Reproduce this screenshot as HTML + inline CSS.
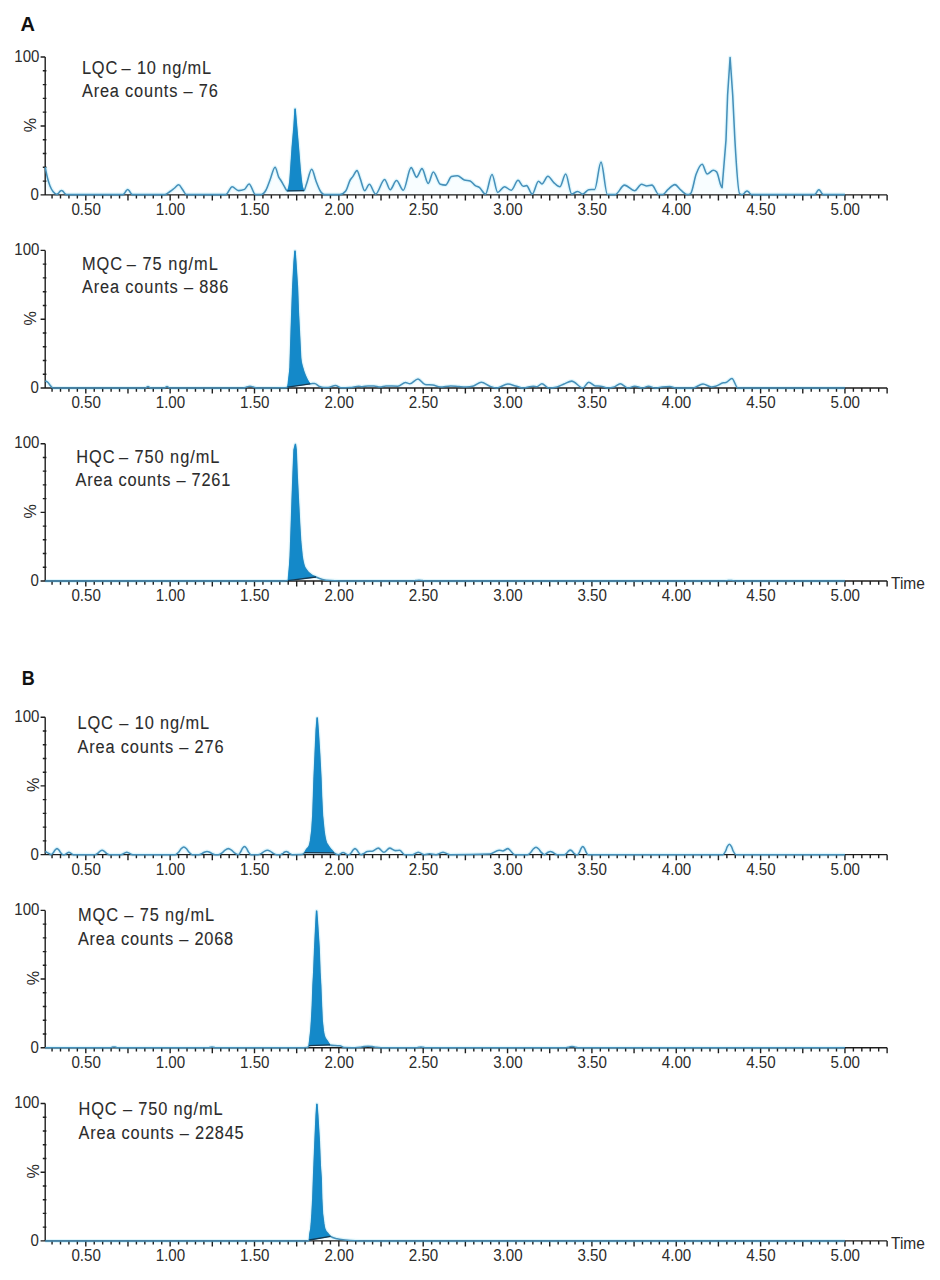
<!DOCTYPE html>
<html><head><meta charset="utf-8"><title>Chromatograms</title>
<style>
html,body{margin:0;padding:0;background:#fff;}
body{width:940px;height:1280px;position:relative;overflow:hidden;font-family:"Liberation Sans",sans-serif;}
svg text{font-family:"Liberation Sans",sans-serif;}
</style></head><body>
<svg width="940" height="1280" viewBox="0 0 940 1280" style="position:absolute;left:0;top:0">
<rect width="940" height="1280" fill="#ffffff"/>
<path d="M45.2 167.2 C45.97 170.8 46.73 174.95 47.5 178 C48.33 181.32 49.17 183.85 50 186 C51 188.58 52 190.14 53 191.5 C54.17 193.08 55.33 194.3 56.5 194.3 C57.13 194.3 57.77 193.94 58.4 193.34 C58.9 192.87 59.4 191.89 59.9 191.41 C60.43 190.89 60.97 190.4 61.5 190.4 C62.03 190.4 62.57 190.89 63.1 191.41 C63.6 191.89 64.1 192.83 64.6 193.34 C65.23 193.98 65.87 194.6 66.5 194.6 C83.67 194.6 100.83 194.6 118 194.6 C119.63 194.6 121.27 194.6 122.9 194.6 C123.51 194.6 124.12 193.83 124.72 193.04 C125.2 192.41 125.68 191.25 126.16 190.65 C126.68 190.01 127.19 189.4 127.7 189.4 C128.21 189.4 128.72 190.01 129.24 190.65 C129.72 191.25 130.2 192.41 130.68 193.04 C131.28 193.83 131.89 194.6 132.5 194.6 C141.67 194.6 150.83 194.6 160 194.6 C161.67 194.6 163.33 194.6 165 194.6 C166.67 194.6 168.33 192.65 170 191.5 C171.33 190.58 172.67 189.52 174 188.5 C175.57 187.3 177.13 184.8 178.7 184.8 C179.97 184.8 181.23 187.89 182.5 189.5 C183.8 191.15 185.1 194.6 186.4 194.6 C199.5 194.6 212.6 194.6 225.7 194.6 C227.87 194.6 230.03 186.8 232.2 186.8 C234.3 186.8 236.4 190.6 238.5 190.6 C240.5 190.6 242.5 190.2 244.5 189.4 C246.03 188.79 247.57 183.9 249.1 183.9 C251.23 183.9 253.37 194.6 255.5 194.6 C257.5 194.6 259.5 194.53 261.5 194.4 C263 194.3 264.5 192.68 266 190 C267.33 187.62 268.67 183.34 270 180 C271.7 175.74 273.4 167.2 275.1 167.2 C276.27 167.2 277.43 174.35 278.6 176.8 C279.47 178.62 280.33 179.55 281.2 181 C282.03 182.39 282.87 183.94 283.7 185.3 C284.93 187.32 286.17 190.9 287.4 190.9 C288.18 190.9 288.97 188.07 289.75 182.4 C290.12 179.75 290.48 173.36 290.85 168.3 L292.25 147.2 L294.05 126.1 L295.1 109.1 L296.55 126.1 L298.35 147.2 L300.05 168.3 C300.55 173.71 301.05 178.91 301.55 182.4 C302.33 187.87 303.12 190.6 303.9 190.6 C304.77 190.6 305.63 186.28 306.5 184 C308.23 179.43 309.97 169.3 311.7 169.3 C313.13 169.3 314.57 177.36 316 181 C317.33 184.39 318.67 188.25 320 190.5 C321.5 193.03 323 194.6 324.5 194.6 C329.6 194.6 334.7 194.6 339.8 194.6 C341.77 194.6 343.73 193.4 345.7 191 C347.2 189.17 348.7 182.59 350.2 180 C351.07 178.51 351.93 177.77 352.8 176.6 C354.2 174.7 355.6 170.6 357 170.6 C358.13 170.6 359.27 176.17 360.4 179.1 C361.83 182.81 363.27 190.7 364.7 190.7 C366.23 190.7 367.77 184.3 369.3 184.3 C371.43 184.3 373.57 194.1 375.7 194.1 C378.67 194.1 381.63 179.5 384.6 179.5 C386.47 179.5 388.33 189.7 390.2 189.7 C392.3 189.7 394.4 180.5 396.5 180.5 C398.77 180.5 401.03 190.2 403.3 190.2 C405.9 190.2 408.5 167.6 411.1 167.6 C412.93 167.6 414.77 177.1 416.6 177.1 C418.4 177.1 420.2 168.6 422 168.6 C424.07 168.6 426.13 183.4 428.2 183.4 C429.9 183.4 431.6 172 433.3 172 C435.67 172 438.03 183.56 440.4 184.3 C442.1 184.83 443.8 185.1 445.5 185.1 C447.5 185.1 449.5 177.21 451.5 176.6 C453.47 176 455.43 175.7 457.4 175.7 C459.7 175.7 462 179.3 464.3 180 C466.27 180.6 468.23 180.3 470.2 180.9 C471.9 181.42 473.6 184.43 475.3 185.6 C476.73 186.58 478.17 186.64 479.6 187.7 C481.57 189.15 483.53 194.1 485.5 194.1 C487.67 194.1 489.83 174.4 492 174.4 C493.9 174.4 495.8 192.4 497.7 192.4 C499.97 192.4 502.23 186.8 504.5 186.8 C506.77 186.8 509.03 190.2 511.3 190.2 C513.57 190.2 515.83 180.3 518.1 180.3 C519.8 180.3 521.5 186.3 523.2 186.3 C524.33 186.3 525.47 185.6 526.6 185.6 C528.47 185.6 530.33 194.1 532.2 194.1 C534.3 194.1 536.4 181.2 538.5 181.2 C539.63 181.2 540.77 183.9 541.9 183.9 C543.9 183.9 545.9 176.3 547.9 176.3 C549.87 176.3 551.83 180.86 553.8 182.6 C555.8 184.37 557.8 186.8 559.8 186.8 C561.77 186.8 563.73 174 565.7 174 C567.7 174 569.7 194.1 571.7 194.1 C573.7 194.1 575.7 191.4 577.7 191.4 C579.4 191.4 581.1 194.1 582.8 194.1 C584.77 194.1 586.73 189.9 588.7 189.7 C590.7 189.5 592.7 189.6 594.7 189.4 C596.8 189.19 598.9 162.1 601 162.1 C603.13 162.1 605.27 194.29 607.4 194.4 C609.97 194.53 612.53 194.6 615.1 194.6 C618.23 194.6 621.37 185.1 624.5 185.1 C627.9 185.1 631.3 190.7 634.7 190.7 C636.97 190.7 639.23 184.3 641.5 184.3 C643.27 184.3 645.03 186 646.8 186 C648.5 186 650.2 185.1 651.9 185.1 C654.17 185.1 656.43 194.4 658.7 194.4 C660.13 194.4 661.57 194.4 663 194.4 C664.7 194.4 666.4 190.87 668.1 189.4 C670.37 187.44 672.63 184.6 674.9 184.6 C676.9 184.6 678.9 188.6 680.9 190.2 C683.17 192.01 685.43 194.6 687.7 194.6 C688.67 194.6 689.63 194.27 690.6 193.6 C692.47 192.31 694.33 178.85 696.2 174 C698.17 168.89 700.13 164.3 702.1 164.3 C703.8 164.3 705.5 174 707.2 174 C709.2 174 711.2 170.2 713.2 170.2 C714.33 170.2 715.47 170.77 716.6 171.9 C718.43 173.73 720.27 187.7 722.1 187.7 L726 140 L727.6 95 L730.1 57.5 L732.7 95 L734.9 140 C736.47 167.52 738.03 192.39 739.6 193.6 C740.47 194.27 741.33 194.6 742.2 194.6 C742.81 194.6 743.42 194.07 744.02 193.52 C744.5 193.09 744.98 192.28 745.46 191.86 C745.98 191.42 746.49 191 747 191 C747.51 191 748.02 191.42 748.54 191.86 C749.02 192.28 749.5 193.09 749.98 193.52 C750.58 194.07 751.19 194.6 751.8 194.6 C764.53 194.6 777.27 194.6 790 194.6 C798.13 194.6 806.27 194.6 814.4 194.6 C814.97 194.6 815.54 193.89 816.11 193.16 C816.56 192.58 817.01 191.51 817.46 190.95 C817.94 190.36 818.42 189.8 818.9 189.8 C819.38 189.8 819.86 190.36 820.34 190.95 C820.79 191.51 821.24 192.58 821.69 193.16 C822.26 193.89 822.83 194.6 823.4 194.6 C830.58 194.6 837.77 194.6 844.95 194.6 L844.95 194.9 L45.2 194.9 Z" fill="#f8fdff" stroke="none"/>
<path d="M45.2 167.2 C45.97 170.8 46.73 174.95 47.5 178 C48.33 181.32 49.17 183.85 50 186 C51 188.58 52 190.14 53 191.5 C54.17 193.08 55.33 194.3 56.5 194.3 C57.13 194.3 57.77 193.94 58.4 193.34 C58.9 192.87 59.4 191.89 59.9 191.41 C60.43 190.89 60.97 190.4 61.5 190.4 C62.03 190.4 62.57 190.89 63.1 191.41 C63.6 191.89 64.1 192.83 64.6 193.34 C65.23 193.98 65.87 194.6 66.5 194.6 C83.67 194.6 100.83 194.6 118 194.6 C119.63 194.6 121.27 194.6 122.9 194.6 C123.51 194.6 124.12 193.83 124.72 193.04 C125.2 192.41 125.68 191.25 126.16 190.65 C126.68 190.01 127.19 189.4 127.7 189.4 C128.21 189.4 128.72 190.01 129.24 190.65 C129.72 191.25 130.2 192.41 130.68 193.04 C131.28 193.83 131.89 194.6 132.5 194.6 C141.67 194.6 150.83 194.6 160 194.6 C161.67 194.6 163.33 194.6 165 194.6 C166.67 194.6 168.33 192.65 170 191.5 C171.33 190.58 172.67 189.52 174 188.5 C175.57 187.3 177.13 184.8 178.7 184.8 C179.97 184.8 181.23 187.89 182.5 189.5 C183.8 191.15 185.1 194.6 186.4 194.6 C199.5 194.6 212.6 194.6 225.7 194.6 C227.87 194.6 230.03 186.8 232.2 186.8 C234.3 186.8 236.4 190.6 238.5 190.6 C240.5 190.6 242.5 190.2 244.5 189.4 C246.03 188.79 247.57 183.9 249.1 183.9 C251.23 183.9 253.37 194.6 255.5 194.6 C257.5 194.6 259.5 194.53 261.5 194.4 C263 194.3 264.5 192.68 266 190 C267.33 187.62 268.67 183.34 270 180 C271.7 175.74 273.4 167.2 275.1 167.2 C276.27 167.2 277.43 174.35 278.6 176.8 C279.47 178.62 280.33 179.55 281.2 181 C282.03 182.39 282.87 183.94 283.7 185.3 C284.93 187.32 286.17 190.9 287.4 190.9 C288.18 190.9 288.97 188.07 289.75 182.4 C290.12 179.75 290.48 173.36 290.85 168.3 L292.25 147.2 L294.05 126.1 L295.1 109.1 L296.55 126.1 L298.35 147.2 L300.05 168.3 C300.55 173.71 301.05 178.91 301.55 182.4 C302.33 187.87 303.12 190.6 303.9 190.6 C304.77 190.6 305.63 186.28 306.5 184 C308.23 179.43 309.97 169.3 311.7 169.3 C313.13 169.3 314.57 177.36 316 181 C317.33 184.39 318.67 188.25 320 190.5 C321.5 193.03 323 194.6 324.5 194.6 C329.6 194.6 334.7 194.6 339.8 194.6 C341.77 194.6 343.73 193.4 345.7 191 C347.2 189.17 348.7 182.59 350.2 180 C351.07 178.51 351.93 177.77 352.8 176.6 C354.2 174.7 355.6 170.6 357 170.6 C358.13 170.6 359.27 176.17 360.4 179.1 C361.83 182.81 363.27 190.7 364.7 190.7 C366.23 190.7 367.77 184.3 369.3 184.3 C371.43 184.3 373.57 194.1 375.7 194.1 C378.67 194.1 381.63 179.5 384.6 179.5 C386.47 179.5 388.33 189.7 390.2 189.7 C392.3 189.7 394.4 180.5 396.5 180.5 C398.77 180.5 401.03 190.2 403.3 190.2 C405.9 190.2 408.5 167.6 411.1 167.6 C412.93 167.6 414.77 177.1 416.6 177.1 C418.4 177.1 420.2 168.6 422 168.6 C424.07 168.6 426.13 183.4 428.2 183.4 C429.9 183.4 431.6 172 433.3 172 C435.67 172 438.03 183.56 440.4 184.3 C442.1 184.83 443.8 185.1 445.5 185.1 C447.5 185.1 449.5 177.21 451.5 176.6 C453.47 176 455.43 175.7 457.4 175.7 C459.7 175.7 462 179.3 464.3 180 C466.27 180.6 468.23 180.3 470.2 180.9 C471.9 181.42 473.6 184.43 475.3 185.6 C476.73 186.58 478.17 186.64 479.6 187.7 C481.57 189.15 483.53 194.1 485.5 194.1 C487.67 194.1 489.83 174.4 492 174.4 C493.9 174.4 495.8 192.4 497.7 192.4 C499.97 192.4 502.23 186.8 504.5 186.8 C506.77 186.8 509.03 190.2 511.3 190.2 C513.57 190.2 515.83 180.3 518.1 180.3 C519.8 180.3 521.5 186.3 523.2 186.3 C524.33 186.3 525.47 185.6 526.6 185.6 C528.47 185.6 530.33 194.1 532.2 194.1 C534.3 194.1 536.4 181.2 538.5 181.2 C539.63 181.2 540.77 183.9 541.9 183.9 C543.9 183.9 545.9 176.3 547.9 176.3 C549.87 176.3 551.83 180.86 553.8 182.6 C555.8 184.37 557.8 186.8 559.8 186.8 C561.77 186.8 563.73 174 565.7 174 C567.7 174 569.7 194.1 571.7 194.1 C573.7 194.1 575.7 191.4 577.7 191.4 C579.4 191.4 581.1 194.1 582.8 194.1 C584.77 194.1 586.73 189.9 588.7 189.7 C590.7 189.5 592.7 189.6 594.7 189.4 C596.8 189.19 598.9 162.1 601 162.1 C603.13 162.1 605.27 194.29 607.4 194.4 C609.97 194.53 612.53 194.6 615.1 194.6 C618.23 194.6 621.37 185.1 624.5 185.1 C627.9 185.1 631.3 190.7 634.7 190.7 C636.97 190.7 639.23 184.3 641.5 184.3 C643.27 184.3 645.03 186 646.8 186 C648.5 186 650.2 185.1 651.9 185.1 C654.17 185.1 656.43 194.4 658.7 194.4 C660.13 194.4 661.57 194.4 663 194.4 C664.7 194.4 666.4 190.87 668.1 189.4 C670.37 187.44 672.63 184.6 674.9 184.6 C676.9 184.6 678.9 188.6 680.9 190.2 C683.17 192.01 685.43 194.6 687.7 194.6 C688.67 194.6 689.63 194.27 690.6 193.6 C692.47 192.31 694.33 178.85 696.2 174 C698.17 168.89 700.13 164.3 702.1 164.3 C703.8 164.3 705.5 174 707.2 174 C709.2 174 711.2 170.2 713.2 170.2 C714.33 170.2 715.47 170.77 716.6 171.9 C718.43 173.73 720.27 187.7 722.1 187.7 L726 140 L727.6 95 L730.1 57.5 L732.7 95 L734.9 140 C736.47 167.52 738.03 192.39 739.6 193.6 C740.47 194.27 741.33 194.6 742.2 194.6 C742.81 194.6 743.42 194.07 744.02 193.52 C744.5 193.09 744.98 192.28 745.46 191.86 C745.98 191.42 746.49 191 747 191 C747.51 191 748.02 191.42 748.54 191.86 C749.02 192.28 749.5 193.09 749.98 193.52 C750.58 194.07 751.19 194.6 751.8 194.6 C764.53 194.6 777.27 194.6 790 194.6 C798.13 194.6 806.27 194.6 814.4 194.6 C814.97 194.6 815.54 193.89 816.11 193.16 C816.56 192.58 817.01 191.51 817.46 190.95 C817.94 190.36 818.42 189.8 818.9 189.8 C819.38 189.8 819.86 190.36 820.34 190.95 C820.79 191.51 821.24 192.58 821.69 193.16 C822.26 193.89 822.83 194.6 823.4 194.6 C830.58 194.6 837.77 194.6 844.95 194.6" stroke="#d6f4fc" stroke-width="4" fill="none" stroke-linejoin="round" opacity="0.7"/>
<path d="M45.2 380.8 C46.13 381.37 47.07 381.58 48 382.5 C48.83 383.32 49.67 384.86 50.5 385.8 C51.27 386.67 52.03 388 52.8 388 C81.87 388 110.93 388 140 388 C141.67 388 143.33 388 145 388 C145.38 388 145.76 387.79 146.14 387.58 C146.44 387.41 146.74 387.1 147.04 386.94 C147.36 386.76 147.68 386.6 148 386.6 C148.32 386.6 148.64 386.76 148.96 386.94 C149.26 387.1 149.56 387.41 149.86 387.58 C150.24 387.79 150.62 388 151 388 C155.33 388 159.67 388 164 388 C164.38 388 164.76 387.79 165.14 387.58 C165.44 387.41 165.74 387.1 166.04 386.94 C166.36 386.76 166.68 386.6 167 386.6 C167.32 386.6 167.64 386.76 167.96 386.94 C168.26 387.1 168.56 387.41 168.86 387.58 C169.24 387.79 169.62 388 170 388 C171.67 388 173.33 388 175 388 C197.67 388 220.33 388 243 388 C243.89 388 244.77 387.73 245.66 387.46 C246.36 387.24 247.06 386.84 247.76 386.63 C248.51 386.41 249.25 386.2 250 386.2 C250.75 386.2 251.49 386.41 252.24 386.63 C252.94 386.84 253.64 387.24 254.34 387.46 C255.23 387.73 256.11 388 257 388 C265.67 388 274.33 387.93 283 387.8 C284.5 387.78 286 387.6 287.5 387.2 C288.35 386.97 289.2 380.63 290.05 367.5 L291.25 330 L291.85 312.5 L292.75 287.5 L294.05 262.5 L295 251.1 L295.85 262.5 L297.45 287.5 L298.35 312.5 L299.25 330 L300.65 358 C301.28 364.33 301.92 364.83 302.55 367.5 C303.67 372.24 304.8 374.44 305.92 377 C307.35 380.25 308.77 383.8 310.2 383.8 C311.63 383.8 313.07 383.4 314.5 383.4 C316.2 383.4 317.9 385.81 319.6 386.5 C321.07 387.09 322.53 387.5 324 387.5 C325.33 387.5 326.67 387.5 328 387.5 C330.5 387.5 333 385.4 335.5 385.4 C337.33 385.4 339.17 387.8 341 387.8 C344 387.8 347 387.73 350 387.6 C352.9 387.47 355.8 386.2 358.7 386.2 C359.8 386.2 360.9 386.7 362 386.7 C364 386.7 366 385.9 368 385.9 C370 385.9 372 385.9 374 385.9 C376 385.9 378 387 380 387 C382 387 384 385.9 386 385.9 C389.97 385.9 393.93 386.2 397.9 386.2 C400.43 386.2 402.97 382.5 405.5 382.5 C406.93 382.5 408.37 383.7 409.8 383.7 C412.53 383.7 415.27 378.9 418 378.9 C420.37 378.9 422.73 384.19 425.1 384.5 C427.67 384.83 430.23 384.67 432.8 385 C435.33 385.33 437.87 387 440.4 387 C443.8 387 447.2 385.9 450.6 385.9 C453.4 385.9 456.2 386.41 459 386.6 C461.33 386.76 463.67 387 466 387 C468.53 387 471.07 386.63 473.6 385.9 C476.17 385.16 478.73 382.3 481.3 382.3 C484.13 382.3 486.97 385.21 489.8 386.2 C492.07 387 494.33 388 496.6 388 C500.37 388 504.13 384 507.9 384 C510.43 384 512.97 385.24 515.5 385.9 C518.07 386.57 520.63 388 523.2 388 C526.6 388 530 386.2 533.4 386.2 C534.53 386.2 535.67 386.7 536.8 386.7 C538.5 386.7 540.2 383.8 541.9 383.8 C544.17 383.8 546.43 388 548.7 388 C551.53 388 554.37 387.63 557.2 386.9 C559.47 386.31 561.73 384.91 564 384 C566.57 382.97 569.13 381.1 571.7 381.1 C575.4 381.1 579.1 388 582.8 388 C584.77 388 586.73 382.3 588.7 382.3 C590.97 382.3 593.23 385.82 595.5 386 C597.2 386.13 598.9 386.07 600.6 386.2 C602.87 386.38 605.13 388 607.4 388 C609.7 388 612 387.63 614.3 386.9 C616.27 386.27 618.23 383.7 620.2 383.7 C622.77 383.7 625.33 388 627.9 388 C630.17 388 632.43 386.2 634.7 386.2 C637.23 386.2 639.77 388 642.3 388 C644.37 388 646.43 386.2 648.5 386.2 C650.77 386.2 653.03 388 655.3 388 C657.57 388 659.83 387.14 662.1 386.9 C664.67 386.63 667.23 386.5 669.8 386.5 C671.77 386.5 673.73 388 675.7 388 C681.4 388 687.1 388 692.8 388 C696.2 388 699.6 384 703 384 C705.83 384 708.67 387 711.5 387 C712.9 387 714.3 386.59 715.7 386.2 C718.27 385.48 720.83 383.31 723.4 382.8 C724.27 382.63 725.13 382.7 726 382.5 C727.97 382.05 729.93 378.4 731.9 378.4 C733.9 378.4 735.9 388 737.9 388 C773.58 388 809.27 388 844.95 388 L844.95 388 L45.2 388 Z" fill="#f8fdff" stroke="none"/>
<path d="M45.2 380.8 C46.13 381.37 47.07 381.58 48 382.5 C48.83 383.32 49.67 384.86 50.5 385.8 C51.27 386.67 52.03 388 52.8 388 C81.87 388 110.93 388 140 388 C141.67 388 143.33 388 145 388 C145.38 388 145.76 387.79 146.14 387.58 C146.44 387.41 146.74 387.1 147.04 386.94 C147.36 386.76 147.68 386.6 148 386.6 C148.32 386.6 148.64 386.76 148.96 386.94 C149.26 387.1 149.56 387.41 149.86 387.58 C150.24 387.79 150.62 388 151 388 C155.33 388 159.67 388 164 388 C164.38 388 164.76 387.79 165.14 387.58 C165.44 387.41 165.74 387.1 166.04 386.94 C166.36 386.76 166.68 386.6 167 386.6 C167.32 386.6 167.64 386.76 167.96 386.94 C168.26 387.1 168.56 387.41 168.86 387.58 C169.24 387.79 169.62 388 170 388 C171.67 388 173.33 388 175 388 C197.67 388 220.33 388 243 388 C243.89 388 244.77 387.73 245.66 387.46 C246.36 387.24 247.06 386.84 247.76 386.63 C248.51 386.41 249.25 386.2 250 386.2 C250.75 386.2 251.49 386.41 252.24 386.63 C252.94 386.84 253.64 387.24 254.34 387.46 C255.23 387.73 256.11 388 257 388 C265.67 388 274.33 387.93 283 387.8 C284.5 387.78 286 387.6 287.5 387.2 C288.35 386.97 289.2 380.63 290.05 367.5 L291.25 330 L291.85 312.5 L292.75 287.5 L294.05 262.5 L295 251.1 L295.85 262.5 L297.45 287.5 L298.35 312.5 L299.25 330 L300.65 358 C301.28 364.33 301.92 364.83 302.55 367.5 C303.67 372.24 304.8 374.44 305.92 377 C307.35 380.25 308.77 383.8 310.2 383.8 C311.63 383.8 313.07 383.4 314.5 383.4 C316.2 383.4 317.9 385.81 319.6 386.5 C321.07 387.09 322.53 387.5 324 387.5 C325.33 387.5 326.67 387.5 328 387.5 C330.5 387.5 333 385.4 335.5 385.4 C337.33 385.4 339.17 387.8 341 387.8 C344 387.8 347 387.73 350 387.6 C352.9 387.47 355.8 386.2 358.7 386.2 C359.8 386.2 360.9 386.7 362 386.7 C364 386.7 366 385.9 368 385.9 C370 385.9 372 385.9 374 385.9 C376 385.9 378 387 380 387 C382 387 384 385.9 386 385.9 C389.97 385.9 393.93 386.2 397.9 386.2 C400.43 386.2 402.97 382.5 405.5 382.5 C406.93 382.5 408.37 383.7 409.8 383.7 C412.53 383.7 415.27 378.9 418 378.9 C420.37 378.9 422.73 384.19 425.1 384.5 C427.67 384.83 430.23 384.67 432.8 385 C435.33 385.33 437.87 387 440.4 387 C443.8 387 447.2 385.9 450.6 385.9 C453.4 385.9 456.2 386.41 459 386.6 C461.33 386.76 463.67 387 466 387 C468.53 387 471.07 386.63 473.6 385.9 C476.17 385.16 478.73 382.3 481.3 382.3 C484.13 382.3 486.97 385.21 489.8 386.2 C492.07 387 494.33 388 496.6 388 C500.37 388 504.13 384 507.9 384 C510.43 384 512.97 385.24 515.5 385.9 C518.07 386.57 520.63 388 523.2 388 C526.6 388 530 386.2 533.4 386.2 C534.53 386.2 535.67 386.7 536.8 386.7 C538.5 386.7 540.2 383.8 541.9 383.8 C544.17 383.8 546.43 388 548.7 388 C551.53 388 554.37 387.63 557.2 386.9 C559.47 386.31 561.73 384.91 564 384 C566.57 382.97 569.13 381.1 571.7 381.1 C575.4 381.1 579.1 388 582.8 388 C584.77 388 586.73 382.3 588.7 382.3 C590.97 382.3 593.23 385.82 595.5 386 C597.2 386.13 598.9 386.07 600.6 386.2 C602.87 386.38 605.13 388 607.4 388 C609.7 388 612 387.63 614.3 386.9 C616.27 386.27 618.23 383.7 620.2 383.7 C622.77 383.7 625.33 388 627.9 388 C630.17 388 632.43 386.2 634.7 386.2 C637.23 386.2 639.77 388 642.3 388 C644.37 388 646.43 386.2 648.5 386.2 C650.77 386.2 653.03 388 655.3 388 C657.57 388 659.83 387.14 662.1 386.9 C664.67 386.63 667.23 386.5 669.8 386.5 C671.77 386.5 673.73 388 675.7 388 C681.4 388 687.1 388 692.8 388 C696.2 388 699.6 384 703 384 C705.83 384 708.67 387 711.5 387 C712.9 387 714.3 386.59 715.7 386.2 C718.27 385.48 720.83 383.31 723.4 382.8 C724.27 382.63 725.13 382.7 726 382.5 C727.97 382.05 729.93 378.4 731.9 378.4 C733.9 378.4 735.9 388 737.9 388 C773.58 388 809.27 388 844.95 388" stroke="#d6f4fc" stroke-width="4" fill="none" stroke-linejoin="round" opacity="0.7"/>
<path d="M45.2 581 C124.8 581 204.4 581 284 581 C285.33 581 286.67 580.87 288 580.6 C288.75 580.45 289.5 572.33 290.25 555.8 L291.35 525 L292.15 500 L293.05 475 L294.05 450 L295.4 444.4 L296.15 450 L297.1 475 L298.35 500 L299.65 525 L300.65 541.7 L302.05 555.8 C302.68 560.8 303.32 562.9 303.95 565.2 C304.77 568.18 305.59 568.59 306.42 569.9 C307.93 572.31 309.44 573.34 310.95 574.5 C312.63 575.8 314.32 576.26 316 577 C318.17 577.95 320.33 578.81 322.5 579.4 C325 580.08 327.5 580.4 330 580.6 C333.33 580.87 336.67 581 340 581 C361.67 581 383.33 581 405 581 C407.33 581 409.67 581 412 581 C412.89 581 413.77 580.9 414.66 580.79 C415.36 580.71 416.06 580.55 416.76 580.47 C417.51 580.38 418.25 580.3 419 580.3 C419.75 580.3 420.49 580.38 421.24 580.47 C421.94 580.55 422.64 580.71 423.34 580.79 C424.23 580.9 425.11 581 426 581 C517.33 581 608.67 581 700 581 C708 581 716 581 724 581 C724.76 581 725.52 580.91 726.28 580.82 C726.88 580.75 727.48 580.61 728.08 580.54 C728.72 580.47 729.36 580.4 730 580.4 C730.64 580.4 731.28 580.47 731.92 580.54 C732.52 580.61 733.12 580.75 733.72 580.82 C734.48 580.91 735.24 581 736 581 C772.32 581 808.63 581 844.95 581 L844.95 581 L45.2 581 Z" fill="#f8fdff" stroke="none"/>
<path d="M45.2 581 C124.8 581 204.4 581 284 581 C285.33 581 286.67 580.87 288 580.6 C288.75 580.45 289.5 572.33 290.25 555.8 L291.35 525 L292.15 500 L293.05 475 L294.05 450 L295.4 444.4 L296.15 450 L297.1 475 L298.35 500 L299.65 525 L300.65 541.7 L302.05 555.8 C302.68 560.8 303.32 562.9 303.95 565.2 C304.77 568.18 305.59 568.59 306.42 569.9 C307.93 572.31 309.44 573.34 310.95 574.5 C312.63 575.8 314.32 576.26 316 577 C318.17 577.95 320.33 578.81 322.5 579.4 C325 580.08 327.5 580.4 330 580.6 C333.33 580.87 336.67 581 340 581 C361.67 581 383.33 581 405 581 C407.33 581 409.67 581 412 581 C412.89 581 413.77 580.9 414.66 580.79 C415.36 580.71 416.06 580.55 416.76 580.47 C417.51 580.38 418.25 580.3 419 580.3 C419.75 580.3 420.49 580.38 421.24 580.47 C421.94 580.55 422.64 580.71 423.34 580.79 C424.23 580.9 425.11 581 426 581 C517.33 581 608.67 581 700 581 C708 581 716 581 724 581 C724.76 581 725.52 580.91 726.28 580.82 C726.88 580.75 727.48 580.61 728.08 580.54 C728.72 580.47 729.36 580.4 730 580.4 C730.64 580.4 731.28 580.47 731.92 580.54 C732.52 580.61 733.12 580.75 733.72 580.82 C734.48 580.91 735.24 581 736 581 C772.32 581 808.63 581 844.95 581" stroke="#d6f4fc" stroke-width="4" fill="none" stroke-linejoin="round" opacity="0.7"/>
<path d="M45.2 851.5 C46.87 852.4 48.53 853.27 50.2 854.2 C50.47 854.35 50.73 854.65 51 854.65 C51.76 854.65 52.52 853.76 53.28 852.84 C53.88 852.11 54.48 850.75 55.08 850.05 C55.72 849.31 56.36 848.6 57 848.6 C57.64 848.6 58.28 849.31 58.92 850.05 C59.52 850.75 60.12 852.11 60.72 852.84 C61.48 853.76 62.24 854.65 63 854.65 C63.47 854.65 63.93 854.65 64.4 854.65 C64.97 854.65 65.54 854.3 66.11 853.94 C66.56 853.66 67.01 853.14 67.46 852.86 C67.94 852.57 68.42 852.3 68.9 852.3 C69.38 852.3 69.86 852.57 70.34 852.86 C70.79 853.14 71.24 853.66 71.69 853.94 C72.26 854.3 72.83 854.65 73.4 854.65 C78.93 854.65 84.47 854.65 90 854.65 C91.7 854.65 93.4 854.65 95.1 854.65 C95.99 854.65 96.87 854.01 97.76 853.35 C98.46 852.82 99.16 851.85 99.86 851.34 C100.61 850.81 101.35 850.3 102.1 850.3 C102.85 850.3 103.59 850.81 104.34 851.34 C105.04 851.85 105.74 852.82 106.44 853.35 C107.33 854.01 108.21 854.65 109.1 854.65 C111.07 854.65 113.03 854.65 115 854.65 C116.93 854.65 118.87 854.65 120.8 854.65 C121.56 854.65 122.32 854.3 123.08 853.94 C123.68 853.66 124.28 853.14 124.88 852.86 C125.52 852.57 126.16 852.3 126.8 852.3 C127.44 852.3 128.08 852.57 128.72 852.86 C129.32 853.14 129.92 853.66 130.52 853.94 C131.28 854.3 132.04 854.65 132.8 854.65 C145.2 854.65 157.6 854.65 170 854.65 C171.77 854.65 173.53 854.65 175.3 854.65 C176.38 854.65 177.45 853.51 178.53 852.32 C179.38 851.39 180.23 849.65 181.08 848.76 C181.99 847.81 182.89 846.9 183.8 846.9 C184.71 846.9 185.61 847.81 186.52 848.76 C187.37 849.65 188.22 851.39 189.07 852.32 C190.15 853.51 191.22 854.65 192.3 854.65 C194.37 854.65 196.43 854.65 198.5 854.65 C199.58 854.65 200.65 854.19 201.73 853.7 C202.58 853.33 203.43 852.62 204.28 852.26 C205.19 851.87 206.09 851.5 207 851.5 C207.91 851.5 208.81 851.87 209.72 852.26 C210.57 852.62 211.42 853.33 212.27 853.7 C213.35 854.19 214.42 854.65 215.5 854.65 C216.43 854.65 217.37 854.65 218.3 854.65 C219.57 854.65 220.83 853.76 222.1 852.84 C223.1 852.11 224.1 850.75 225.1 850.05 C226.17 849.31 227.23 848.6 228.3 848.6 C229.37 848.6 230.43 849.31 231.5 850.05 C232.5 850.75 233.5 852.11 234.5 852.84 C235.77 853.76 237.03 854.65 238.3 854.65 C239.02 854.65 239.75 853.31 240.47 852.17 C241.12 851.16 241.77 849.33 242.42 848.38 C243.11 847.36 243.81 846.4 244.5 846.4 C245.19 846.4 245.89 847.36 246.58 848.38 C247.23 849.33 247.88 851.18 248.53 852.17 C249.35 853.43 250.18 854.65 251 854.65 C253.3 854.65 255.6 854.65 257.9 854.65 C259.1 854.65 260.31 854.01 261.51 853.35 C262.46 852.82 263.41 851.85 264.36 851.34 C265.37 850.81 266.39 850.3 267.4 850.3 C268.41 850.3 269.43 850.81 270.44 851.34 C271.39 851.85 272.34 852.82 273.29 853.35 C274.49 854.01 275.7 854.65 276.9 854.65 C278.07 854.65 279.23 854.65 280.4 854.65 C281.13 854.65 281.87 854.19 282.6 853.7 C283.18 853.33 283.76 852.62 284.34 852.26 C284.96 851.87 285.58 851.5 286.2 851.5 C286.82 851.5 287.44 851.87 288.06 852.26 C288.64 852.62 289.22 853.33 289.8 853.7 C290.53 854.19 291.27 854.65 292 854.65 C295 854.65 298 854.6 301 854.5 C302.2 854.46 303.4 853.9 304.6 852.7 C305.14 852.16 305.69 850.68 306.23 849.8 C307.26 848.14 308.29 848.47 309.32 845.8 C309.73 844.74 310.14 843.13 310.55 840.7 L311.85 830.5 L312.85 815.3 L313.55 795 L314.05 779.5 L315.15 754.5 L316.25 729.5 L317.2 717.9 L318.1 729.5 L319.65 754.5 L320.95 779.5 L321.55 797 L322.45 815.3 L323.95 830.5 C324.55 835.36 325.15 838.28 325.75 840.7 C326.59 844.1 327.44 844.37 328.28 845.8 C329.31 847.54 330.34 848.55 331.37 849.8 C332.24 850.86 333.12 852.08 334 852.8 C335.5 854.03 337 854.65 338.5 854.65 C338.53 854.65 338.57 854.65 338.6 854.65 C339.17 854.65 339.74 854.33 340.31 854 C340.76 853.75 341.21 853.26 341.66 853.02 C342.14 852.75 342.62 852.5 343.1 852.5 C343.58 852.5 344.06 852.75 344.54 853.02 C344.99 853.26 345.44 853.75 345.89 854 C346.46 854.33 347.03 854.65 347.6 854.65 C348.07 854.65 348.53 854.65 349 854.65 C349.76 854.65 350.52 853.76 351.28 852.84 C351.88 852.11 352.48 850.75 353.08 850.05 C353.72 849.31 354.36 848.6 355 848.6 C355.64 848.6 356.28 849.31 356.92 850.05 C357.52 850.75 358.12 852.11 358.72 852.84 C359.48 853.76 360.24 854.65 361 854.65 C362 854.65 363 854 364 853.5 C365.07 852.97 366.13 851.63 367.2 851.5 C368.9 851.3 370.6 851.4 372.3 851.2 C374.3 850.96 376.3 848.1 378.3 848.1 C380.17 848.1 382.03 852.3 383.9 852.3 C385.83 852.3 387.77 848.1 389.7 848.1 C391.57 848.1 393.43 850.6 395.3 850.6 C396.73 850.6 398.17 850.3 399.6 850.3 C401.3 850.3 403 854.65 404.7 854.65 C406.47 854.65 408.23 854.65 410 854.65 C410.77 854.65 411.53 854.65 412.3 854.65 C413.06 854.65 413.82 854.3 414.58 853.94 C415.18 853.66 415.78 853.14 416.38 852.86 C417.02 852.57 417.66 852.3 418.3 852.3 C418.94 852.3 419.58 852.57 420.22 852.86 C420.82 853.14 421.42 853.66 422.02 853.94 C422.78 854.3 423.54 854.65 424.3 854.65 C426 854.65 427.7 853.8 429.4 853.8 C431.6 853.8 433.8 854.65 436 854.65 C436.89 854.65 437.77 854.3 438.66 853.94 C439.36 853.66 440.06 853.14 440.76 852.86 C441.51 852.57 442.25 852.3 443 852.3 C443.75 852.3 444.49 852.57 445.24 852.86 C445.94 853.14 446.64 853.66 447.34 853.94 C448.23 854.3 449.11 854.65 450 854.65 C463.27 854.65 476.53 854.43 489.8 854 C492.9 853.9 496 850.3 499.1 850.3 C500.33 850.3 501.57 850.9 502.8 850.9 C504.5 850.9 506.2 848.6 507.9 848.6 C510.17 848.6 512.43 854.65 514.7 854.65 C518.47 854.65 522.23 854.65 526 854.65 C526.5 854.65 527 854.65 527.5 854.65 C528.58 854.65 529.65 853.55 530.73 852.41 C531.58 851.52 532.43 849.85 533.28 848.99 C534.19 848.07 535.09 847.2 536 847.2 C536.91 847.2 537.81 848.07 538.72 848.99 C539.57 849.85 540.42 851.52 541.27 852.41 C542.35 853.55 543.42 854.65 544.5 854.65 C545.02 854.65 545.54 854.04 546.06 853.7 C546.76 853.26 547.46 852.62 548.16 852.26 C548.91 851.87 549.65 851.5 550.4 851.5 C551.15 851.5 551.89 851.87 552.64 852.26 C553.34 852.62 554.04 853.33 554.74 853.7 C555.63 854.19 556.51 854.65 557.4 854.65 C558.27 854.65 559.13 854.65 560 854.65 C561.5 854.65 563 854.65 564.5 854.65 C565.23 854.65 565.97 853.98 566.7 853.28 C567.28 852.74 567.86 851.72 568.44 851.19 C569.06 850.63 569.68 850.1 570.3 850.1 C570.92 850.1 571.54 850.63 572.16 851.19 C572.74 851.72 573.32 852.74 573.9 853.28 C574.63 853.98 575.37 854.65 576.1 854.65 C576.57 854.65 577.03 854.65 577.5 854.65 C578.17 854.65 578.84 853.43 579.51 852.17 C580.04 851.18 580.57 849.33 581.1 848.38 C581.67 847.36 582.23 846.4 582.8 846.4 C583.37 846.4 583.93 847.36 584.5 848.38 C585.03 849.33 585.56 851.18 586.09 852.17 C586.76 853.43 587.43 854.65 588.1 854.65 C625.4 854.65 662.7 854.65 700 854.65 C707.63 854.65 715.27 854.65 722.9 854.65 C723.72 854.65 724.55 853.11 725.37 851.51 C726.02 850.26 726.67 847.91 727.32 846.71 C728.01 845.42 728.71 844.2 729.4 844.2 C730.09 844.2 730.79 845.42 731.48 846.71 C732.13 847.91 732.78 850.26 733.43 851.51 C734.25 853.11 735.08 854.65 735.9 854.65 C772.25 854.65 808.6 854.65 844.95 854.65 L844.95 854.65 L45.2 854.65 Z" fill="#f8fdff" stroke="none"/>
<path d="M45.2 851.5 C46.87 852.4 48.53 853.27 50.2 854.2 C50.47 854.35 50.73 854.65 51 854.65 C51.76 854.65 52.52 853.76 53.28 852.84 C53.88 852.11 54.48 850.75 55.08 850.05 C55.72 849.31 56.36 848.6 57 848.6 C57.64 848.6 58.28 849.31 58.92 850.05 C59.52 850.75 60.12 852.11 60.72 852.84 C61.48 853.76 62.24 854.65 63 854.65 C63.47 854.65 63.93 854.65 64.4 854.65 C64.97 854.65 65.54 854.3 66.11 853.94 C66.56 853.66 67.01 853.14 67.46 852.86 C67.94 852.57 68.42 852.3 68.9 852.3 C69.38 852.3 69.86 852.57 70.34 852.86 C70.79 853.14 71.24 853.66 71.69 853.94 C72.26 854.3 72.83 854.65 73.4 854.65 C78.93 854.65 84.47 854.65 90 854.65 C91.7 854.65 93.4 854.65 95.1 854.65 C95.99 854.65 96.87 854.01 97.76 853.35 C98.46 852.82 99.16 851.85 99.86 851.34 C100.61 850.81 101.35 850.3 102.1 850.3 C102.85 850.3 103.59 850.81 104.34 851.34 C105.04 851.85 105.74 852.82 106.44 853.35 C107.33 854.01 108.21 854.65 109.1 854.65 C111.07 854.65 113.03 854.65 115 854.65 C116.93 854.65 118.87 854.65 120.8 854.65 C121.56 854.65 122.32 854.3 123.08 853.94 C123.68 853.66 124.28 853.14 124.88 852.86 C125.52 852.57 126.16 852.3 126.8 852.3 C127.44 852.3 128.08 852.57 128.72 852.86 C129.32 853.14 129.92 853.66 130.52 853.94 C131.28 854.3 132.04 854.65 132.8 854.65 C145.2 854.65 157.6 854.65 170 854.65 C171.77 854.65 173.53 854.65 175.3 854.65 C176.38 854.65 177.45 853.51 178.53 852.32 C179.38 851.39 180.23 849.65 181.08 848.76 C181.99 847.81 182.89 846.9 183.8 846.9 C184.71 846.9 185.61 847.81 186.52 848.76 C187.37 849.65 188.22 851.39 189.07 852.32 C190.15 853.51 191.22 854.65 192.3 854.65 C194.37 854.65 196.43 854.65 198.5 854.65 C199.58 854.65 200.65 854.19 201.73 853.7 C202.58 853.33 203.43 852.62 204.28 852.26 C205.19 851.87 206.09 851.5 207 851.5 C207.91 851.5 208.81 851.87 209.72 852.26 C210.57 852.62 211.42 853.33 212.27 853.7 C213.35 854.19 214.42 854.65 215.5 854.65 C216.43 854.65 217.37 854.65 218.3 854.65 C219.57 854.65 220.83 853.76 222.1 852.84 C223.1 852.11 224.1 850.75 225.1 850.05 C226.17 849.31 227.23 848.6 228.3 848.6 C229.37 848.6 230.43 849.31 231.5 850.05 C232.5 850.75 233.5 852.11 234.5 852.84 C235.77 853.76 237.03 854.65 238.3 854.65 C239.02 854.65 239.75 853.31 240.47 852.17 C241.12 851.16 241.77 849.33 242.42 848.38 C243.11 847.36 243.81 846.4 244.5 846.4 C245.19 846.4 245.89 847.36 246.58 848.38 C247.23 849.33 247.88 851.18 248.53 852.17 C249.35 853.43 250.18 854.65 251 854.65 C253.3 854.65 255.6 854.65 257.9 854.65 C259.1 854.65 260.31 854.01 261.51 853.35 C262.46 852.82 263.41 851.85 264.36 851.34 C265.37 850.81 266.39 850.3 267.4 850.3 C268.41 850.3 269.43 850.81 270.44 851.34 C271.39 851.85 272.34 852.82 273.29 853.35 C274.49 854.01 275.7 854.65 276.9 854.65 C278.07 854.65 279.23 854.65 280.4 854.65 C281.13 854.65 281.87 854.19 282.6 853.7 C283.18 853.33 283.76 852.62 284.34 852.26 C284.96 851.87 285.58 851.5 286.2 851.5 C286.82 851.5 287.44 851.87 288.06 852.26 C288.64 852.62 289.22 853.33 289.8 853.7 C290.53 854.19 291.27 854.65 292 854.65 C295 854.65 298 854.6 301 854.5 C302.2 854.46 303.4 853.9 304.6 852.7 C305.14 852.16 305.69 850.68 306.23 849.8 C307.26 848.14 308.29 848.47 309.32 845.8 C309.73 844.74 310.14 843.13 310.55 840.7 L311.85 830.5 L312.85 815.3 L313.55 795 L314.05 779.5 L315.15 754.5 L316.25 729.5 L317.2 717.9 L318.1 729.5 L319.65 754.5 L320.95 779.5 L321.55 797 L322.45 815.3 L323.95 830.5 C324.55 835.36 325.15 838.28 325.75 840.7 C326.59 844.1 327.44 844.37 328.28 845.8 C329.31 847.54 330.34 848.55 331.37 849.8 C332.24 850.86 333.12 852.08 334 852.8 C335.5 854.03 337 854.65 338.5 854.65 C338.53 854.65 338.57 854.65 338.6 854.65 C339.17 854.65 339.74 854.33 340.31 854 C340.76 853.75 341.21 853.26 341.66 853.02 C342.14 852.75 342.62 852.5 343.1 852.5 C343.58 852.5 344.06 852.75 344.54 853.02 C344.99 853.26 345.44 853.75 345.89 854 C346.46 854.33 347.03 854.65 347.6 854.65 C348.07 854.65 348.53 854.65 349 854.65 C349.76 854.65 350.52 853.76 351.28 852.84 C351.88 852.11 352.48 850.75 353.08 850.05 C353.72 849.31 354.36 848.6 355 848.6 C355.64 848.6 356.28 849.31 356.92 850.05 C357.52 850.75 358.12 852.11 358.72 852.84 C359.48 853.76 360.24 854.65 361 854.65 C362 854.65 363 854 364 853.5 C365.07 852.97 366.13 851.63 367.2 851.5 C368.9 851.3 370.6 851.4 372.3 851.2 C374.3 850.96 376.3 848.1 378.3 848.1 C380.17 848.1 382.03 852.3 383.9 852.3 C385.83 852.3 387.77 848.1 389.7 848.1 C391.57 848.1 393.43 850.6 395.3 850.6 C396.73 850.6 398.17 850.3 399.6 850.3 C401.3 850.3 403 854.65 404.7 854.65 C406.47 854.65 408.23 854.65 410 854.65 C410.77 854.65 411.53 854.65 412.3 854.65 C413.06 854.65 413.82 854.3 414.58 853.94 C415.18 853.66 415.78 853.14 416.38 852.86 C417.02 852.57 417.66 852.3 418.3 852.3 C418.94 852.3 419.58 852.57 420.22 852.86 C420.82 853.14 421.42 853.66 422.02 853.94 C422.78 854.3 423.54 854.65 424.3 854.65 C426 854.65 427.7 853.8 429.4 853.8 C431.6 853.8 433.8 854.65 436 854.65 C436.89 854.65 437.77 854.3 438.66 853.94 C439.36 853.66 440.06 853.14 440.76 852.86 C441.51 852.57 442.25 852.3 443 852.3 C443.75 852.3 444.49 852.57 445.24 852.86 C445.94 853.14 446.64 853.66 447.34 853.94 C448.23 854.3 449.11 854.65 450 854.65 C463.27 854.65 476.53 854.43 489.8 854 C492.9 853.9 496 850.3 499.1 850.3 C500.33 850.3 501.57 850.9 502.8 850.9 C504.5 850.9 506.2 848.6 507.9 848.6 C510.17 848.6 512.43 854.65 514.7 854.65 C518.47 854.65 522.23 854.65 526 854.65 C526.5 854.65 527 854.65 527.5 854.65 C528.58 854.65 529.65 853.55 530.73 852.41 C531.58 851.52 532.43 849.85 533.28 848.99 C534.19 848.07 535.09 847.2 536 847.2 C536.91 847.2 537.81 848.07 538.72 848.99 C539.57 849.85 540.42 851.52 541.27 852.41 C542.35 853.55 543.42 854.65 544.5 854.65 C545.02 854.65 545.54 854.04 546.06 853.7 C546.76 853.26 547.46 852.62 548.16 852.26 C548.91 851.87 549.65 851.5 550.4 851.5 C551.15 851.5 551.89 851.87 552.64 852.26 C553.34 852.62 554.04 853.33 554.74 853.7 C555.63 854.19 556.51 854.65 557.4 854.65 C558.27 854.65 559.13 854.65 560 854.65 C561.5 854.65 563 854.65 564.5 854.65 C565.23 854.65 565.97 853.98 566.7 853.28 C567.28 852.74 567.86 851.72 568.44 851.19 C569.06 850.63 569.68 850.1 570.3 850.1 C570.92 850.1 571.54 850.63 572.16 851.19 C572.74 851.72 573.32 852.74 573.9 853.28 C574.63 853.98 575.37 854.65 576.1 854.65 C576.57 854.65 577.03 854.65 577.5 854.65 C578.17 854.65 578.84 853.43 579.51 852.17 C580.04 851.18 580.57 849.33 581.1 848.38 C581.67 847.36 582.23 846.4 582.8 846.4 C583.37 846.4 583.93 847.36 584.5 848.38 C585.03 849.33 585.56 851.18 586.09 852.17 C586.76 853.43 587.43 854.65 588.1 854.65 C625.4 854.65 662.7 854.65 700 854.65 C707.63 854.65 715.27 854.65 722.9 854.65 C723.72 854.65 724.55 853.11 725.37 851.51 C726.02 850.26 726.67 847.91 727.32 846.71 C728.01 845.42 728.71 844.2 729.4 844.2 C730.09 844.2 730.79 845.42 731.48 846.71 C732.13 847.91 732.78 850.26 733.43 851.51 C734.25 853.11 735.08 854.65 735.9 854.65 C772.25 854.65 808.6 854.65 844.95 854.65" stroke="#d6f4fc" stroke-width="4" fill="none" stroke-linejoin="round" opacity="0.7"/>
<path d="M45.2 1047.7 C66.8 1047.7 88.4 1047.7 110 1047.7 C110.51 1047.7 111.01 1047.58 111.52 1047.46 C111.92 1047.36 112.32 1047.18 112.72 1047.09 C113.15 1046.99 113.57 1046.9 114 1046.9 C114.43 1046.9 114.85 1046.99 115.28 1047.09 C115.68 1047.18 116.08 1047.36 116.48 1047.46 C116.99 1047.58 117.49 1047.7 118 1047.7 C148 1047.7 178 1047.7 208 1047.7 C208.51 1047.7 209.01 1047.6 209.52 1047.49 C209.92 1047.41 210.32 1047.25 210.72 1047.17 C211.15 1047.08 211.57 1047 212 1047 C212.43 1047 212.85 1047.08 213.28 1047.17 C213.68 1047.25 214.08 1047.41 214.48 1047.49 C214.99 1047.6 215.49 1047.7 216 1047.7 C245.33 1047.7 274.67 1047.7 304 1047.7 C305 1047.7 306 1047.67 307 1047.6 C307.67 1047.56 308.33 1046.93 309 1045.6 C309.41 1044.77 309.83 1039.21 310.24 1035.8 L310.85 1030.7 L311.55 1020.5 L312.35 1005.3 L313.05 985 L313.75 972.5 L314.75 947.5 L315.95 922.5 L316.6 911.1 L317.45 922.5 L319.05 947.5 L319.95 972.5 L320.65 985 L321.45 1005.3 L322.15 1020.5 L323.25 1030.7 C323.59 1033.08 323.92 1034.63 324.26 1035.8 C325.21 1039.13 326.16 1039.29 327.12 1040.8 C328.08 1042.32 329.04 1044.63 330 1044.9 C331.67 1045.37 333.33 1045.47 335 1045.6 C336.67 1045.73 338.33 1045.67 340 1045.8 C341.33 1045.91 342.67 1047.57 344 1047.6 C346.67 1047.67 349.33 1047.7 352 1047.7 C353 1047.7 354 1047.7 355 1047.7 C356.65 1047.7 358.29 1047.49 359.94 1047.28 C361.24 1047.11 362.54 1046.8 363.84 1046.64 C365.23 1046.46 366.61 1046.3 368 1046.3 C369.39 1046.3 370.77 1046.46 372.16 1046.64 C373.46 1046.8 374.76 1047.11 376.06 1047.28 C377.71 1047.49 379.35 1047.7 381 1047.7 C392.67 1047.7 404.33 1047.7 416 1047.7 C416.63 1047.7 417.27 1047.6 417.9 1047.49 C418.4 1047.41 418.9 1047.25 419.4 1047.17 C419.93 1047.08 420.47 1047 421 1047 C421.53 1047 422.07 1047.08 422.6 1047.17 C423.1 1047.25 423.6 1047.41 424.1 1047.49 C424.73 1047.6 425.37 1047.7 426 1047.7 C470.67 1047.7 515.33 1047.7 560 1047.7 C562 1047.7 564 1047.7 566 1047.7 C566.76 1047.7 567.52 1047.54 568.28 1047.37 C568.88 1047.24 569.48 1046.99 570.08 1046.86 C570.72 1046.73 571.36 1046.6 572 1046.6 C572.64 1046.6 573.28 1046.73 573.92 1046.86 C574.52 1046.99 575.12 1047.24 575.72 1047.37 C576.48 1047.54 577.24 1047.7 578 1047.7 C666.98 1047.7 755.97 1047.7 844.95 1047.7 L844.95 1047.7 L45.2 1047.7 Z" fill="#f8fdff" stroke="none"/>
<path d="M45.2 1047.7 C66.8 1047.7 88.4 1047.7 110 1047.7 C110.51 1047.7 111.01 1047.58 111.52 1047.46 C111.92 1047.36 112.32 1047.18 112.72 1047.09 C113.15 1046.99 113.57 1046.9 114 1046.9 C114.43 1046.9 114.85 1046.99 115.28 1047.09 C115.68 1047.18 116.08 1047.36 116.48 1047.46 C116.99 1047.58 117.49 1047.7 118 1047.7 C148 1047.7 178 1047.7 208 1047.7 C208.51 1047.7 209.01 1047.6 209.52 1047.49 C209.92 1047.41 210.32 1047.25 210.72 1047.17 C211.15 1047.08 211.57 1047 212 1047 C212.43 1047 212.85 1047.08 213.28 1047.17 C213.68 1047.25 214.08 1047.41 214.48 1047.49 C214.99 1047.6 215.49 1047.7 216 1047.7 C245.33 1047.7 274.67 1047.7 304 1047.7 C305 1047.7 306 1047.67 307 1047.6 C307.67 1047.56 308.33 1046.93 309 1045.6 C309.41 1044.77 309.83 1039.21 310.24 1035.8 L310.85 1030.7 L311.55 1020.5 L312.35 1005.3 L313.05 985 L313.75 972.5 L314.75 947.5 L315.95 922.5 L316.6 911.1 L317.45 922.5 L319.05 947.5 L319.95 972.5 L320.65 985 L321.45 1005.3 L322.15 1020.5 L323.25 1030.7 C323.59 1033.08 323.92 1034.63 324.26 1035.8 C325.21 1039.13 326.16 1039.29 327.12 1040.8 C328.08 1042.32 329.04 1044.63 330 1044.9 C331.67 1045.37 333.33 1045.47 335 1045.6 C336.67 1045.73 338.33 1045.67 340 1045.8 C341.33 1045.91 342.67 1047.57 344 1047.6 C346.67 1047.67 349.33 1047.7 352 1047.7 C353 1047.7 354 1047.7 355 1047.7 C356.65 1047.7 358.29 1047.49 359.94 1047.28 C361.24 1047.11 362.54 1046.8 363.84 1046.64 C365.23 1046.46 366.61 1046.3 368 1046.3 C369.39 1046.3 370.77 1046.46 372.16 1046.64 C373.46 1046.8 374.76 1047.11 376.06 1047.28 C377.71 1047.49 379.35 1047.7 381 1047.7 C392.67 1047.7 404.33 1047.7 416 1047.7 C416.63 1047.7 417.27 1047.6 417.9 1047.49 C418.4 1047.41 418.9 1047.25 419.4 1047.17 C419.93 1047.08 420.47 1047 421 1047 C421.53 1047 422.07 1047.08 422.6 1047.17 C423.1 1047.25 423.6 1047.41 424.1 1047.49 C424.73 1047.6 425.37 1047.7 426 1047.7 C470.67 1047.7 515.33 1047.7 560 1047.7 C562 1047.7 564 1047.7 566 1047.7 C566.76 1047.7 567.52 1047.54 568.28 1047.37 C568.88 1047.24 569.48 1046.99 570.08 1046.86 C570.72 1046.73 571.36 1046.6 572 1046.6 C572.64 1046.6 573.28 1046.73 573.92 1046.86 C574.52 1046.99 575.12 1047.24 575.72 1047.37 C576.48 1047.54 577.24 1047.7 578 1047.7 C666.98 1047.7 755.97 1047.7 844.95 1047.7" stroke="#d6f4fc" stroke-width="4" fill="none" stroke-linejoin="round" opacity="0.7"/>
<path d="M45.2 1240.9 C131.47 1240.9 217.73 1240.9 304 1240.9 C305 1240.9 306 1241 307 1241 C307.77 1241 308.53 1240.67 309.3 1240 C309.5 1239.83 309.7 1235.47 309.9 1233.8 L310.85 1228.8 L311.35 1223.7 L312.05 1213.5 L312.85 1198.3 L313.55 1178 L314.05 1165.5 L315.05 1140.5 L316.15 1115.5 L316.9 1104.2 L317.75 1115.5 L319.25 1140.5 L320.25 1165.5 L321.15 1178 L321.65 1198.3 L322.45 1213.5 L323.75 1223.7 C324.08 1225.8 324.42 1227.81 324.75 1228.8 C325.87 1232.13 326.99 1232.4 328.1 1233.8 C328.9 1234.8 329.7 1235.81 330.5 1236.4 C332.67 1238 334.83 1238.23 337 1238.8 C339.67 1239.51 342.33 1239.6 345 1239.9 C348.33 1240.27 351.67 1240.57 355 1240.7 C358.33 1240.83 361.67 1240.9 365 1240.9 C524.98 1240.9 684.97 1240.9 844.95 1240.9 L844.95 1240.9 L45.2 1240.9 Z" fill="#f8fdff" stroke="none"/>
<path d="M45.2 1240.9 C131.47 1240.9 217.73 1240.9 304 1240.9 C305 1240.9 306 1241 307 1241 C307.77 1241 308.53 1240.67 309.3 1240 C309.5 1239.83 309.7 1235.47 309.9 1233.8 L310.85 1228.8 L311.35 1223.7 L312.05 1213.5 L312.85 1198.3 L313.55 1178 L314.05 1165.5 L315.05 1140.5 L316.15 1115.5 L316.9 1104.2 L317.75 1115.5 L319.25 1140.5 L320.25 1165.5 L321.15 1178 L321.65 1198.3 L322.45 1213.5 L323.75 1223.7 C324.08 1225.8 324.42 1227.81 324.75 1228.8 C325.87 1232.13 326.99 1232.4 328.1 1233.8 C328.9 1234.8 329.7 1235.81 330.5 1236.4 C332.67 1238 334.83 1238.23 337 1238.8 C339.67 1239.51 342.33 1239.6 345 1239.9 C348.33 1240.27 351.67 1240.57 355 1240.7 C358.33 1240.83 361.67 1240.9 365 1240.9 C524.98 1240.9 684.97 1240.9 844.95 1240.9" stroke="#d6f4fc" stroke-width="4" fill="none" stroke-linejoin="round" opacity="0.7"/>
<path d="M45.2 57 V194.9 M40.6 194.9 H45.2 M42.8 181.11 H46.4 M42.8 167.32 H46.4 M42.8 153.53 H46.4 M42.8 139.74 H46.4 M40.6 125.95 H45.2 M42.8 112.16 H46.4 M42.8 98.37 H46.4 M42.8 84.58 H46.4 M42.8 70.79 H46.4 M40.6 57 H45.2 M40.6 194.9 H887.12 M52.06 194.9 V198.6 M60.5 194.9 V198.6 M68.93 194.9 V198.6 M77.36 194.9 V198.6 M85.8 194.9 V200.5 M94.23 194.9 V198.6 M102.67 194.9 V198.6 M111.11 194.9 V198.6 M119.54 194.9 V198.6 M127.97 194.9 V200.5 M136.41 194.9 V198.6 M144.84 194.9 V198.6 M153.28 194.9 V198.6 M161.72 194.9 V198.6 M170.15 194.9 V200.5 M178.58 194.9 V198.6 M187.02 194.9 V198.6 M195.46 194.9 V198.6 M203.89 194.9 V198.6 M212.32 194.9 V200.5 M220.76 194.9 V198.6 M229.19 194.9 V198.6 M237.63 194.9 V198.6 M246.06 194.9 V198.6 M254.5 194.9 V200.5 M262.94 194.9 V198.6 M271.37 194.9 V198.6 M279.81 194.9 V198.6 M288.24 194.9 V198.6 M296.68 194.9 V200.5 M305.11 194.9 V198.6 M313.55 194.9 V198.6 M321.98 194.9 V198.6 M330.42 194.9 V198.6 M338.85 194.9 V200.5 M347.29 194.9 V198.6 M355.72 194.9 V198.6 M364.15 194.9 V198.6 M372.59 194.9 V198.6 M381.02 194.9 V200.5 M389.46 194.9 V198.6 M397.89 194.9 V198.6 M406.33 194.9 V198.6 M414.77 194.9 V198.6 M423.2 194.9 V200.5 M431.64 194.9 V198.6 M440.07 194.9 V198.6 M448.51 194.9 V198.6 M456.94 194.9 V198.6 M465.38 194.9 V200.5 M473.81 194.9 V198.6 M482.25 194.9 V198.6 M490.68 194.9 V198.6 M499.12 194.9 V198.6 M507.55 194.9 V200.5 M515.99 194.9 V198.6 M524.42 194.9 V198.6 M532.86 194.9 V198.6 M541.29 194.9 V198.6 M549.72 194.9 V200.5 M558.16 194.9 V198.6 M566.59 194.9 V198.6 M575.03 194.9 V198.6 M583.47 194.9 V198.6 M591.9 194.9 V200.5 M600.33 194.9 V198.6 M608.77 194.9 V198.6 M617.2 194.9 V198.6 M625.64 194.9 V198.6 M634.07 194.9 V200.5 M642.51 194.9 V198.6 M650.94 194.9 V198.6 M659.38 194.9 V198.6 M667.81 194.9 V198.6 M676.25 194.9 V200.5 M684.68 194.9 V198.6 M693.12 194.9 V198.6 M701.55 194.9 V198.6 M709.99 194.9 V198.6 M718.42 194.9 V200.5 M726.86 194.9 V198.6 M735.29 194.9 V198.6 M743.73 194.9 V198.6 M752.16 194.9 V198.6 M760.6 194.9 V200.5 M769.03 194.9 V198.6 M777.47 194.9 V198.6 M785.9 194.9 V198.6 M794.34 194.9 V198.6 M802.77 194.9 V200.5 M811.21 194.9 V198.6 M819.64 194.9 V198.6 M828.08 194.9 V198.6 M836.51 194.9 V198.6 M844.95 194.9 V200.5 M853.38 194.9 V198.6 M861.82 194.9 V198.6 M870.25 194.9 V198.6 M878.69 194.9 V198.6 M887.12 194.9 V200.5" stroke="#1e1e1e" stroke-width="1.4" fill="none"/>
<text transform="translate(39.4 61.6) scale(0.875 1)" font-size="17.2" text-anchor="end" font-weight="normal" fill="#2b2b2b">100</text>
<text transform="translate(38.9 200) scale(0.875 1)" font-size="17.2" text-anchor="end" font-weight="normal" fill="#2b2b2b">0</text>
<text x="0" y="0" font-size="16.2" text-anchor="middle" fill="#2b2b2b" transform="translate(36.2 124.95) rotate(-90)">%</text>
<text transform="translate(86.1 215.2) scale(0.88 1)" font-size="17.2" text-anchor="middle" font-weight="normal" fill="#2b2b2b">0.50</text>
<text transform="translate(170.45 215.2) scale(0.88 1)" font-size="17.2" text-anchor="middle" font-weight="normal" fill="#2b2b2b">1.00</text>
<text transform="translate(254.8 215.2) scale(0.88 1)" font-size="17.2" text-anchor="middle" font-weight="normal" fill="#2b2b2b">1.50</text>
<text transform="translate(339.15 215.2) scale(0.88 1)" font-size="17.2" text-anchor="middle" font-weight="normal" fill="#2b2b2b">2.00</text>
<text transform="translate(423.5 215.2) scale(0.88 1)" font-size="17.2" text-anchor="middle" font-weight="normal" fill="#2b2b2b">2.50</text>
<text transform="translate(507.85 215.2) scale(0.88 1)" font-size="17.2" text-anchor="middle" font-weight="normal" fill="#2b2b2b">3.00</text>
<text transform="translate(592.2 215.2) scale(0.88 1)" font-size="17.2" text-anchor="middle" font-weight="normal" fill="#2b2b2b">3.50</text>
<text transform="translate(676.55 215.2) scale(0.88 1)" font-size="17.2" text-anchor="middle" font-weight="normal" fill="#2b2b2b">4.00</text>
<text transform="translate(760.9 215.2) scale(0.88 1)" font-size="17.2" text-anchor="middle" font-weight="normal" fill="#2b2b2b">4.50</text>
<text transform="translate(845.25 215.2) scale(0.88 1)" font-size="17.2" text-anchor="middle" font-weight="normal" fill="#2b2b2b">5.00</text>
<path d="M45.2 250.4 V388 M40.6 388 H45.2 M42.8 374.24 H46.4 M42.8 360.48 H46.4 M42.8 346.72 H46.4 M42.8 332.96 H46.4 M40.6 319.2 H45.2 M42.8 305.44 H46.4 M42.8 291.68 H46.4 M42.8 277.92 H46.4 M42.8 264.16 H46.4 M40.6 250.4 H45.2 M40.6 388 H887.12 M52.06 388 V391.7 M60.5 388 V391.7 M68.93 388 V391.7 M77.36 388 V391.7 M85.8 388 V393.6 M94.23 388 V391.7 M102.67 388 V391.7 M111.11 388 V391.7 M119.54 388 V391.7 M127.97 388 V393.6 M136.41 388 V391.7 M144.84 388 V391.7 M153.28 388 V391.7 M161.72 388 V391.7 M170.15 388 V393.6 M178.58 388 V391.7 M187.02 388 V391.7 M195.46 388 V391.7 M203.89 388 V391.7 M212.32 388 V393.6 M220.76 388 V391.7 M229.19 388 V391.7 M237.63 388 V391.7 M246.06 388 V391.7 M254.5 388 V393.6 M262.94 388 V391.7 M271.37 388 V391.7 M279.81 388 V391.7 M288.24 388 V391.7 M296.68 388 V393.6 M305.11 388 V391.7 M313.55 388 V391.7 M321.98 388 V391.7 M330.42 388 V391.7 M338.85 388 V393.6 M347.29 388 V391.7 M355.72 388 V391.7 M364.15 388 V391.7 M372.59 388 V391.7 M381.02 388 V393.6 M389.46 388 V391.7 M397.89 388 V391.7 M406.33 388 V391.7 M414.77 388 V391.7 M423.2 388 V393.6 M431.64 388 V391.7 M440.07 388 V391.7 M448.51 388 V391.7 M456.94 388 V391.7 M465.38 388 V393.6 M473.81 388 V391.7 M482.25 388 V391.7 M490.68 388 V391.7 M499.12 388 V391.7 M507.55 388 V393.6 M515.99 388 V391.7 M524.42 388 V391.7 M532.86 388 V391.7 M541.29 388 V391.7 M549.72 388 V393.6 M558.16 388 V391.7 M566.59 388 V391.7 M575.03 388 V391.7 M583.47 388 V391.7 M591.9 388 V393.6 M600.33 388 V391.7 M608.77 388 V391.7 M617.2 388 V391.7 M625.64 388 V391.7 M634.07 388 V393.6 M642.51 388 V391.7 M650.94 388 V391.7 M659.38 388 V391.7 M667.81 388 V391.7 M676.25 388 V393.6 M684.68 388 V391.7 M693.12 388 V391.7 M701.55 388 V391.7 M709.99 388 V391.7 M718.42 388 V393.6 M726.86 388 V391.7 M735.29 388 V391.7 M743.73 388 V391.7 M752.16 388 V391.7 M760.6 388 V393.6 M769.03 388 V391.7 M777.47 388 V391.7 M785.9 388 V391.7 M794.34 388 V391.7 M802.77 388 V393.6 M811.21 388 V391.7 M819.64 388 V391.7 M828.08 388 V391.7 M836.51 388 V391.7 M844.95 388 V393.6 M853.38 388 V391.7 M861.82 388 V391.7 M870.25 388 V391.7 M878.69 388 V391.7 M887.12 388 V393.6" stroke="#1e1e1e" stroke-width="1.4" fill="none"/>
<text transform="translate(39.4 255) scale(0.875 1)" font-size="17.2" text-anchor="end" font-weight="normal" fill="#2b2b2b">100</text>
<text transform="translate(38.9 393.1) scale(0.875 1)" font-size="17.2" text-anchor="end" font-weight="normal" fill="#2b2b2b">0</text>
<text x="0" y="0" font-size="16.2" text-anchor="middle" fill="#2b2b2b" transform="translate(36.2 318.2) rotate(-90)">%</text>
<text transform="translate(86.1 408.3) scale(0.88 1)" font-size="17.2" text-anchor="middle" font-weight="normal" fill="#2b2b2b">0.50</text>
<text transform="translate(170.45 408.3) scale(0.88 1)" font-size="17.2" text-anchor="middle" font-weight="normal" fill="#2b2b2b">1.00</text>
<text transform="translate(254.8 408.3) scale(0.88 1)" font-size="17.2" text-anchor="middle" font-weight="normal" fill="#2b2b2b">1.50</text>
<text transform="translate(339.15 408.3) scale(0.88 1)" font-size="17.2" text-anchor="middle" font-weight="normal" fill="#2b2b2b">2.00</text>
<text transform="translate(423.5 408.3) scale(0.88 1)" font-size="17.2" text-anchor="middle" font-weight="normal" fill="#2b2b2b">2.50</text>
<text transform="translate(507.85 408.3) scale(0.88 1)" font-size="17.2" text-anchor="middle" font-weight="normal" fill="#2b2b2b">3.00</text>
<text transform="translate(592.2 408.3) scale(0.88 1)" font-size="17.2" text-anchor="middle" font-weight="normal" fill="#2b2b2b">3.50</text>
<text transform="translate(676.55 408.3) scale(0.88 1)" font-size="17.2" text-anchor="middle" font-weight="normal" fill="#2b2b2b">4.00</text>
<text transform="translate(760.9 408.3) scale(0.88 1)" font-size="17.2" text-anchor="middle" font-weight="normal" fill="#2b2b2b">4.50</text>
<text transform="translate(845.25 408.3) scale(0.88 1)" font-size="17.2" text-anchor="middle" font-weight="normal" fill="#2b2b2b">5.00</text>
<path d="M45.2 443.7 V581 M40.6 581 H45.2 M42.8 567.27 H46.4 M42.8 553.54 H46.4 M42.8 539.81 H46.4 M42.8 526.08 H46.4 M40.6 512.35 H45.2 M42.8 498.62 H46.4 M42.8 484.89 H46.4 M42.8 471.16 H46.4 M42.8 457.43 H46.4 M40.6 443.7 H45.2 M40.6 581 H887.12 M52.06 581 V584.7 M60.5 581 V584.7 M68.93 581 V584.7 M77.36 581 V584.7 M85.8 581 V586.6 M94.23 581 V584.7 M102.67 581 V584.7 M111.11 581 V584.7 M119.54 581 V584.7 M127.97 581 V586.6 M136.41 581 V584.7 M144.84 581 V584.7 M153.28 581 V584.7 M161.72 581 V584.7 M170.15 581 V586.6 M178.58 581 V584.7 M187.02 581 V584.7 M195.46 581 V584.7 M203.89 581 V584.7 M212.32 581 V586.6 M220.76 581 V584.7 M229.19 581 V584.7 M237.63 581 V584.7 M246.06 581 V584.7 M254.5 581 V586.6 M262.94 581 V584.7 M271.37 581 V584.7 M279.81 581 V584.7 M288.24 581 V584.7 M296.68 581 V586.6 M305.11 581 V584.7 M313.55 581 V584.7 M321.98 581 V584.7 M330.42 581 V584.7 M338.85 581 V586.6 M347.29 581 V584.7 M355.72 581 V584.7 M364.15 581 V584.7 M372.59 581 V584.7 M381.02 581 V586.6 M389.46 581 V584.7 M397.89 581 V584.7 M406.33 581 V584.7 M414.77 581 V584.7 M423.2 581 V586.6 M431.64 581 V584.7 M440.07 581 V584.7 M448.51 581 V584.7 M456.94 581 V584.7 M465.38 581 V586.6 M473.81 581 V584.7 M482.25 581 V584.7 M490.68 581 V584.7 M499.12 581 V584.7 M507.55 581 V586.6 M515.99 581 V584.7 M524.42 581 V584.7 M532.86 581 V584.7 M541.29 581 V584.7 M549.72 581 V586.6 M558.16 581 V584.7 M566.59 581 V584.7 M575.03 581 V584.7 M583.47 581 V584.7 M591.9 581 V586.6 M600.33 581 V584.7 M608.77 581 V584.7 M617.2 581 V584.7 M625.64 581 V584.7 M634.07 581 V586.6 M642.51 581 V584.7 M650.94 581 V584.7 M659.38 581 V584.7 M667.81 581 V584.7 M676.25 581 V586.6 M684.68 581 V584.7 M693.12 581 V584.7 M701.55 581 V584.7 M709.99 581 V584.7 M718.42 581 V586.6 M726.86 581 V584.7 M735.29 581 V584.7 M743.73 581 V584.7 M752.16 581 V584.7 M760.6 581 V586.6 M769.03 581 V584.7 M777.47 581 V584.7 M785.9 581 V584.7 M794.34 581 V584.7 M802.77 581 V586.6 M811.21 581 V584.7 M819.64 581 V584.7 M828.08 581 V584.7 M836.51 581 V584.7 M844.95 581 V586.6 M853.38 581 V584.7 M861.82 581 V584.7 M870.25 581 V584.7 M878.69 581 V584.7 M887.12 581 V586.6" stroke="#1e1e1e" stroke-width="1.4" fill="none"/>
<text transform="translate(39.4 448.3) scale(0.875 1)" font-size="17.2" text-anchor="end" font-weight="normal" fill="#2b2b2b">100</text>
<text transform="translate(38.9 586.1) scale(0.875 1)" font-size="17.2" text-anchor="end" font-weight="normal" fill="#2b2b2b">0</text>
<text x="0" y="0" font-size="16.2" text-anchor="middle" fill="#2b2b2b" transform="translate(36.2 511.35) rotate(-90)">%</text>
<text transform="translate(86.1 601.3) scale(0.88 1)" font-size="17.2" text-anchor="middle" font-weight="normal" fill="#2b2b2b">0.50</text>
<text transform="translate(170.45 601.3) scale(0.88 1)" font-size="17.2" text-anchor="middle" font-weight="normal" fill="#2b2b2b">1.00</text>
<text transform="translate(254.8 601.3) scale(0.88 1)" font-size="17.2" text-anchor="middle" font-weight="normal" fill="#2b2b2b">1.50</text>
<text transform="translate(339.15 601.3) scale(0.88 1)" font-size="17.2" text-anchor="middle" font-weight="normal" fill="#2b2b2b">2.00</text>
<text transform="translate(423.5 601.3) scale(0.88 1)" font-size="17.2" text-anchor="middle" font-weight="normal" fill="#2b2b2b">2.50</text>
<text transform="translate(507.85 601.3) scale(0.88 1)" font-size="17.2" text-anchor="middle" font-weight="normal" fill="#2b2b2b">3.00</text>
<text transform="translate(592.2 601.3) scale(0.88 1)" font-size="17.2" text-anchor="middle" font-weight="normal" fill="#2b2b2b">3.50</text>
<text transform="translate(676.55 601.3) scale(0.88 1)" font-size="17.2" text-anchor="middle" font-weight="normal" fill="#2b2b2b">4.00</text>
<text transform="translate(760.9 601.3) scale(0.88 1)" font-size="17.2" text-anchor="middle" font-weight="normal" fill="#2b2b2b">4.50</text>
<text transform="translate(845.25 601.3) scale(0.88 1)" font-size="17.2" text-anchor="middle" font-weight="normal" fill="#2b2b2b">5.00</text>
<text transform="translate(891 588.6) scale(0.9 1)" font-size="17.2" text-anchor="start" font-weight="normal" fill="#2b2b2b">Time</text>
<path d="M45.2 717.2 V854.65 M40.6 854.65 H45.2 M42.8 840.9 H46.4 M42.8 827.16 H46.4 M42.8 813.41 H46.4 M42.8 799.67 H46.4 M40.6 785.92 H45.2 M42.8 772.18 H46.4 M42.8 758.44 H46.4 M42.8 744.69 H46.4 M42.8 730.95 H46.4 M40.6 717.2 H45.2 M40.6 854.65 H887.12 M52.06 854.65 V858.35 M60.5 854.65 V858.35 M68.93 854.65 V858.35 M77.36 854.65 V858.35 M85.8 854.65 V860.25 M94.23 854.65 V858.35 M102.67 854.65 V858.35 M111.11 854.65 V858.35 M119.54 854.65 V858.35 M127.97 854.65 V860.25 M136.41 854.65 V858.35 M144.84 854.65 V858.35 M153.28 854.65 V858.35 M161.72 854.65 V858.35 M170.15 854.65 V860.25 M178.58 854.65 V858.35 M187.02 854.65 V858.35 M195.46 854.65 V858.35 M203.89 854.65 V858.35 M212.32 854.65 V860.25 M220.76 854.65 V858.35 M229.19 854.65 V858.35 M237.63 854.65 V858.35 M246.06 854.65 V858.35 M254.5 854.65 V860.25 M262.94 854.65 V858.35 M271.37 854.65 V858.35 M279.81 854.65 V858.35 M288.24 854.65 V858.35 M296.68 854.65 V860.25 M305.11 854.65 V858.35 M313.55 854.65 V858.35 M321.98 854.65 V858.35 M330.42 854.65 V858.35 M338.85 854.65 V860.25 M347.29 854.65 V858.35 M355.72 854.65 V858.35 M364.15 854.65 V858.35 M372.59 854.65 V858.35 M381.02 854.65 V860.25 M389.46 854.65 V858.35 M397.89 854.65 V858.35 M406.33 854.65 V858.35 M414.77 854.65 V858.35 M423.2 854.65 V860.25 M431.64 854.65 V858.35 M440.07 854.65 V858.35 M448.51 854.65 V858.35 M456.94 854.65 V858.35 M465.38 854.65 V860.25 M473.81 854.65 V858.35 M482.25 854.65 V858.35 M490.68 854.65 V858.35 M499.12 854.65 V858.35 M507.55 854.65 V860.25 M515.99 854.65 V858.35 M524.42 854.65 V858.35 M532.86 854.65 V858.35 M541.29 854.65 V858.35 M549.72 854.65 V860.25 M558.16 854.65 V858.35 M566.59 854.65 V858.35 M575.03 854.65 V858.35 M583.47 854.65 V858.35 M591.9 854.65 V860.25 M600.33 854.65 V858.35 M608.77 854.65 V858.35 M617.2 854.65 V858.35 M625.64 854.65 V858.35 M634.07 854.65 V860.25 M642.51 854.65 V858.35 M650.94 854.65 V858.35 M659.38 854.65 V858.35 M667.81 854.65 V858.35 M676.25 854.65 V860.25 M684.68 854.65 V858.35 M693.12 854.65 V858.35 M701.55 854.65 V858.35 M709.99 854.65 V858.35 M718.42 854.65 V860.25 M726.86 854.65 V858.35 M735.29 854.65 V858.35 M743.73 854.65 V858.35 M752.16 854.65 V858.35 M760.6 854.65 V860.25 M769.03 854.65 V858.35 M777.47 854.65 V858.35 M785.9 854.65 V858.35 M794.34 854.65 V858.35 M802.77 854.65 V860.25 M811.21 854.65 V858.35 M819.64 854.65 V858.35 M828.08 854.65 V858.35 M836.51 854.65 V858.35 M844.95 854.65 V860.25 M853.38 854.65 V858.35 M861.82 854.65 V858.35 M870.25 854.65 V858.35 M878.69 854.65 V858.35 M887.12 854.65 V860.25" stroke="#1e1e1e" stroke-width="1.4" fill="none"/>
<text transform="translate(39.4 721.8) scale(0.875 1)" font-size="17.2" text-anchor="end" font-weight="normal" fill="#2b2b2b">100</text>
<text transform="translate(38.9 859.75) scale(0.875 1)" font-size="17.2" text-anchor="end" font-weight="normal" fill="#2b2b2b">0</text>
<text x="0" y="0" font-size="16.2" text-anchor="middle" fill="#2b2b2b" transform="translate(38.9 784.92) rotate(-90)">%</text>
<text transform="translate(86.1 874.95) scale(0.88 1)" font-size="17.2" text-anchor="middle" font-weight="normal" fill="#2b2b2b">0.50</text>
<text transform="translate(170.45 874.95) scale(0.88 1)" font-size="17.2" text-anchor="middle" font-weight="normal" fill="#2b2b2b">1.00</text>
<text transform="translate(254.8 874.95) scale(0.88 1)" font-size="17.2" text-anchor="middle" font-weight="normal" fill="#2b2b2b">1.50</text>
<text transform="translate(339.15 874.95) scale(0.88 1)" font-size="17.2" text-anchor="middle" font-weight="normal" fill="#2b2b2b">2.00</text>
<text transform="translate(423.5 874.95) scale(0.88 1)" font-size="17.2" text-anchor="middle" font-weight="normal" fill="#2b2b2b">2.50</text>
<text transform="translate(507.85 874.95) scale(0.88 1)" font-size="17.2" text-anchor="middle" font-weight="normal" fill="#2b2b2b">3.00</text>
<text transform="translate(592.2 874.95) scale(0.88 1)" font-size="17.2" text-anchor="middle" font-weight="normal" fill="#2b2b2b">3.50</text>
<text transform="translate(676.55 874.95) scale(0.88 1)" font-size="17.2" text-anchor="middle" font-weight="normal" fill="#2b2b2b">4.00</text>
<text transform="translate(760.9 874.95) scale(0.88 1)" font-size="17.2" text-anchor="middle" font-weight="normal" fill="#2b2b2b">4.50</text>
<text transform="translate(845.25 874.95) scale(0.88 1)" font-size="17.2" text-anchor="middle" font-weight="normal" fill="#2b2b2b">5.00</text>
<path d="M45.2 910.4 V1047.7 M40.6 1047.7 H45.2 M42.8 1033.97 H46.4 M42.8 1020.24 H46.4 M42.8 1006.51 H46.4 M42.8 992.78 H46.4 M40.6 979.05 H45.2 M42.8 965.32 H46.4 M42.8 951.59 H46.4 M42.8 937.86 H46.4 M42.8 924.13 H46.4 M40.6 910.4 H45.2 M40.6 1047.7 H887.12 M52.06 1047.7 V1051.4 M60.5 1047.7 V1051.4 M68.93 1047.7 V1051.4 M77.36 1047.7 V1051.4 M85.8 1047.7 V1053.3 M94.23 1047.7 V1051.4 M102.67 1047.7 V1051.4 M111.11 1047.7 V1051.4 M119.54 1047.7 V1051.4 M127.97 1047.7 V1053.3 M136.41 1047.7 V1051.4 M144.84 1047.7 V1051.4 M153.28 1047.7 V1051.4 M161.72 1047.7 V1051.4 M170.15 1047.7 V1053.3 M178.58 1047.7 V1051.4 M187.02 1047.7 V1051.4 M195.46 1047.7 V1051.4 M203.89 1047.7 V1051.4 M212.32 1047.7 V1053.3 M220.76 1047.7 V1051.4 M229.19 1047.7 V1051.4 M237.63 1047.7 V1051.4 M246.06 1047.7 V1051.4 M254.5 1047.7 V1053.3 M262.94 1047.7 V1051.4 M271.37 1047.7 V1051.4 M279.81 1047.7 V1051.4 M288.24 1047.7 V1051.4 M296.68 1047.7 V1053.3 M305.11 1047.7 V1051.4 M313.55 1047.7 V1051.4 M321.98 1047.7 V1051.4 M330.42 1047.7 V1051.4 M338.85 1047.7 V1053.3 M347.29 1047.7 V1051.4 M355.72 1047.7 V1051.4 M364.15 1047.7 V1051.4 M372.59 1047.7 V1051.4 M381.02 1047.7 V1053.3 M389.46 1047.7 V1051.4 M397.89 1047.7 V1051.4 M406.33 1047.7 V1051.4 M414.77 1047.7 V1051.4 M423.2 1047.7 V1053.3 M431.64 1047.7 V1051.4 M440.07 1047.7 V1051.4 M448.51 1047.7 V1051.4 M456.94 1047.7 V1051.4 M465.38 1047.7 V1053.3 M473.81 1047.7 V1051.4 M482.25 1047.7 V1051.4 M490.68 1047.7 V1051.4 M499.12 1047.7 V1051.4 M507.55 1047.7 V1053.3 M515.99 1047.7 V1051.4 M524.42 1047.7 V1051.4 M532.86 1047.7 V1051.4 M541.29 1047.7 V1051.4 M549.72 1047.7 V1053.3 M558.16 1047.7 V1051.4 M566.59 1047.7 V1051.4 M575.03 1047.7 V1051.4 M583.47 1047.7 V1051.4 M591.9 1047.7 V1053.3 M600.33 1047.7 V1051.4 M608.77 1047.7 V1051.4 M617.2 1047.7 V1051.4 M625.64 1047.7 V1051.4 M634.07 1047.7 V1053.3 M642.51 1047.7 V1051.4 M650.94 1047.7 V1051.4 M659.38 1047.7 V1051.4 M667.81 1047.7 V1051.4 M676.25 1047.7 V1053.3 M684.68 1047.7 V1051.4 M693.12 1047.7 V1051.4 M701.55 1047.7 V1051.4 M709.99 1047.7 V1051.4 M718.42 1047.7 V1053.3 M726.86 1047.7 V1051.4 M735.29 1047.7 V1051.4 M743.73 1047.7 V1051.4 M752.16 1047.7 V1051.4 M760.6 1047.7 V1053.3 M769.03 1047.7 V1051.4 M777.47 1047.7 V1051.4 M785.9 1047.7 V1051.4 M794.34 1047.7 V1051.4 M802.77 1047.7 V1053.3 M811.21 1047.7 V1051.4 M819.64 1047.7 V1051.4 M828.08 1047.7 V1051.4 M836.51 1047.7 V1051.4 M844.95 1047.7 V1053.3 M853.38 1047.7 V1051.4 M861.82 1047.7 V1051.4 M870.25 1047.7 V1051.4 M878.69 1047.7 V1051.4 M887.12 1047.7 V1053.3" stroke="#1e1e1e" stroke-width="1.4" fill="none"/>
<text transform="translate(39.4 915) scale(0.875 1)" font-size="17.2" text-anchor="end" font-weight="normal" fill="#2b2b2b">100</text>
<text transform="translate(38.9 1052.8) scale(0.875 1)" font-size="17.2" text-anchor="end" font-weight="normal" fill="#2b2b2b">0</text>
<text x="0" y="0" font-size="16.2" text-anchor="middle" fill="#2b2b2b" transform="translate(38.9 978.05) rotate(-90)">%</text>
<text transform="translate(86.1 1068) scale(0.88 1)" font-size="17.2" text-anchor="middle" font-weight="normal" fill="#2b2b2b">0.50</text>
<text transform="translate(170.45 1068) scale(0.88 1)" font-size="17.2" text-anchor="middle" font-weight="normal" fill="#2b2b2b">1.00</text>
<text transform="translate(254.8 1068) scale(0.88 1)" font-size="17.2" text-anchor="middle" font-weight="normal" fill="#2b2b2b">1.50</text>
<text transform="translate(339.15 1068) scale(0.88 1)" font-size="17.2" text-anchor="middle" font-weight="normal" fill="#2b2b2b">2.00</text>
<text transform="translate(423.5 1068) scale(0.88 1)" font-size="17.2" text-anchor="middle" font-weight="normal" fill="#2b2b2b">2.50</text>
<text transform="translate(507.85 1068) scale(0.88 1)" font-size="17.2" text-anchor="middle" font-weight="normal" fill="#2b2b2b">3.00</text>
<text transform="translate(592.2 1068) scale(0.88 1)" font-size="17.2" text-anchor="middle" font-weight="normal" fill="#2b2b2b">3.50</text>
<text transform="translate(676.55 1068) scale(0.88 1)" font-size="17.2" text-anchor="middle" font-weight="normal" fill="#2b2b2b">4.00</text>
<text transform="translate(760.9 1068) scale(0.88 1)" font-size="17.2" text-anchor="middle" font-weight="normal" fill="#2b2b2b">4.50</text>
<text transform="translate(845.25 1068) scale(0.88 1)" font-size="17.2" text-anchor="middle" font-weight="normal" fill="#2b2b2b">5.00</text>
<path d="M45.2 1103.5 V1240.9 M40.6 1240.9 H45.2 M42.8 1227.16 H46.4 M42.8 1213.42 H46.4 M42.8 1199.68 H46.4 M42.8 1185.94 H46.4 M40.6 1172.2 H45.2 M42.8 1158.46 H46.4 M42.8 1144.72 H46.4 M42.8 1130.98 H46.4 M42.8 1117.24 H46.4 M40.6 1103.5 H45.2 M40.6 1240.9 H887.12 M52.06 1240.9 V1244.6 M60.5 1240.9 V1244.6 M68.93 1240.9 V1244.6 M77.36 1240.9 V1244.6 M85.8 1240.9 V1246.5 M94.23 1240.9 V1244.6 M102.67 1240.9 V1244.6 M111.11 1240.9 V1244.6 M119.54 1240.9 V1244.6 M127.97 1240.9 V1246.5 M136.41 1240.9 V1244.6 M144.84 1240.9 V1244.6 M153.28 1240.9 V1244.6 M161.72 1240.9 V1244.6 M170.15 1240.9 V1246.5 M178.58 1240.9 V1244.6 M187.02 1240.9 V1244.6 M195.46 1240.9 V1244.6 M203.89 1240.9 V1244.6 M212.32 1240.9 V1246.5 M220.76 1240.9 V1244.6 M229.19 1240.9 V1244.6 M237.63 1240.9 V1244.6 M246.06 1240.9 V1244.6 M254.5 1240.9 V1246.5 M262.94 1240.9 V1244.6 M271.37 1240.9 V1244.6 M279.81 1240.9 V1244.6 M288.24 1240.9 V1244.6 M296.68 1240.9 V1246.5 M305.11 1240.9 V1244.6 M313.55 1240.9 V1244.6 M321.98 1240.9 V1244.6 M330.42 1240.9 V1244.6 M338.85 1240.9 V1246.5 M347.29 1240.9 V1244.6 M355.72 1240.9 V1244.6 M364.15 1240.9 V1244.6 M372.59 1240.9 V1244.6 M381.02 1240.9 V1246.5 M389.46 1240.9 V1244.6 M397.89 1240.9 V1244.6 M406.33 1240.9 V1244.6 M414.77 1240.9 V1244.6 M423.2 1240.9 V1246.5 M431.64 1240.9 V1244.6 M440.07 1240.9 V1244.6 M448.51 1240.9 V1244.6 M456.94 1240.9 V1244.6 M465.38 1240.9 V1246.5 M473.81 1240.9 V1244.6 M482.25 1240.9 V1244.6 M490.68 1240.9 V1244.6 M499.12 1240.9 V1244.6 M507.55 1240.9 V1246.5 M515.99 1240.9 V1244.6 M524.42 1240.9 V1244.6 M532.86 1240.9 V1244.6 M541.29 1240.9 V1244.6 M549.72 1240.9 V1246.5 M558.16 1240.9 V1244.6 M566.59 1240.9 V1244.6 M575.03 1240.9 V1244.6 M583.47 1240.9 V1244.6 M591.9 1240.9 V1246.5 M600.33 1240.9 V1244.6 M608.77 1240.9 V1244.6 M617.2 1240.9 V1244.6 M625.64 1240.9 V1244.6 M634.07 1240.9 V1246.5 M642.51 1240.9 V1244.6 M650.94 1240.9 V1244.6 M659.38 1240.9 V1244.6 M667.81 1240.9 V1244.6 M676.25 1240.9 V1246.5 M684.68 1240.9 V1244.6 M693.12 1240.9 V1244.6 M701.55 1240.9 V1244.6 M709.99 1240.9 V1244.6 M718.42 1240.9 V1246.5 M726.86 1240.9 V1244.6 M735.29 1240.9 V1244.6 M743.73 1240.9 V1244.6 M752.16 1240.9 V1244.6 M760.6 1240.9 V1246.5 M769.03 1240.9 V1244.6 M777.47 1240.9 V1244.6 M785.9 1240.9 V1244.6 M794.34 1240.9 V1244.6 M802.77 1240.9 V1246.5 M811.21 1240.9 V1244.6 M819.64 1240.9 V1244.6 M828.08 1240.9 V1244.6 M836.51 1240.9 V1244.6 M844.95 1240.9 V1246.5 M853.38 1240.9 V1244.6 M861.82 1240.9 V1244.6 M870.25 1240.9 V1244.6 M878.69 1240.9 V1244.6 M887.12 1240.9 V1246.5" stroke="#1e1e1e" stroke-width="1.4" fill="none"/>
<text transform="translate(39.4 1108.1) scale(0.875 1)" font-size="17.2" text-anchor="end" font-weight="normal" fill="#2b2b2b">100</text>
<text transform="translate(38.9 1246) scale(0.875 1)" font-size="17.2" text-anchor="end" font-weight="normal" fill="#2b2b2b">0</text>
<text x="0" y="0" font-size="16.2" text-anchor="middle" fill="#2b2b2b" transform="translate(38.9 1171.2) rotate(-90)">%</text>
<text transform="translate(86.1 1261.2) scale(0.88 1)" font-size="17.2" text-anchor="middle" font-weight="normal" fill="#2b2b2b">0.50</text>
<text transform="translate(170.45 1261.2) scale(0.88 1)" font-size="17.2" text-anchor="middle" font-weight="normal" fill="#2b2b2b">1.00</text>
<text transform="translate(254.8 1261.2) scale(0.88 1)" font-size="17.2" text-anchor="middle" font-weight="normal" fill="#2b2b2b">1.50</text>
<text transform="translate(339.15 1261.2) scale(0.88 1)" font-size="17.2" text-anchor="middle" font-weight="normal" fill="#2b2b2b">2.00</text>
<text transform="translate(423.5 1261.2) scale(0.88 1)" font-size="17.2" text-anchor="middle" font-weight="normal" fill="#2b2b2b">2.50</text>
<text transform="translate(507.85 1261.2) scale(0.88 1)" font-size="17.2" text-anchor="middle" font-weight="normal" fill="#2b2b2b">3.00</text>
<text transform="translate(592.2 1261.2) scale(0.88 1)" font-size="17.2" text-anchor="middle" font-weight="normal" fill="#2b2b2b">3.50</text>
<text transform="translate(676.55 1261.2) scale(0.88 1)" font-size="17.2" text-anchor="middle" font-weight="normal" fill="#2b2b2b">4.00</text>
<text transform="translate(760.9 1261.2) scale(0.88 1)" font-size="17.2" text-anchor="middle" font-weight="normal" fill="#2b2b2b">4.50</text>
<text transform="translate(845.25 1261.2) scale(0.88 1)" font-size="17.2" text-anchor="middle" font-weight="normal" fill="#2b2b2b">5.00</text>
<text transform="translate(891 1248.5) scale(0.9 1)" font-size="17.2" text-anchor="start" font-weight="normal" fill="#2b2b2b">Time</text>
<path d="M45.2 167.2 C45.97 170.8 46.73 174.95 47.5 178 C48.33 181.32 49.17 183.85 50 186 C51 188.58 52 190.14 53 191.5 C54.17 193.08 55.33 194.3 56.5 194.3 C57.13 194.3 57.77 193.94 58.4 193.34 C58.9 192.87 59.4 191.89 59.9 191.41 C60.43 190.89 60.97 190.4 61.5 190.4 C62.03 190.4 62.57 190.89 63.1 191.41 C63.6 191.89 64.1 192.83 64.6 193.34 C65.23 193.98 65.87 194.6 66.5 194.6 C83.67 194.6 100.83 194.6 118 194.6 C119.63 194.6 121.27 194.6 122.9 194.6 C123.51 194.6 124.12 193.83 124.72 193.04 C125.2 192.41 125.68 191.25 126.16 190.65 C126.68 190.01 127.19 189.4 127.7 189.4 C128.21 189.4 128.72 190.01 129.24 190.65 C129.72 191.25 130.2 192.41 130.68 193.04 C131.28 193.83 131.89 194.6 132.5 194.6 C141.67 194.6 150.83 194.6 160 194.6 C161.67 194.6 163.33 194.6 165 194.6 C166.67 194.6 168.33 192.65 170 191.5 C171.33 190.58 172.67 189.52 174 188.5 C175.57 187.3 177.13 184.8 178.7 184.8 C179.97 184.8 181.23 187.89 182.5 189.5 C183.8 191.15 185.1 194.6 186.4 194.6 C199.5 194.6 212.6 194.6 225.7 194.6 C227.87 194.6 230.03 186.8 232.2 186.8 C234.3 186.8 236.4 190.6 238.5 190.6 C240.5 190.6 242.5 190.2 244.5 189.4 C246.03 188.79 247.57 183.9 249.1 183.9 C251.23 183.9 253.37 194.6 255.5 194.6 C257.5 194.6 259.5 194.53 261.5 194.4 C263 194.3 264.5 192.68 266 190 C267.33 187.62 268.67 183.34 270 180 C271.7 175.74 273.4 167.2 275.1 167.2 C276.27 167.2 277.43 174.35 278.6 176.8 C279.47 178.62 280.33 179.55 281.2 181 C282.03 182.39 282.87 183.94 283.7 185.3 C284.93 187.32 286.17 190.9 287.4 190.9 C288.18 190.9 288.97 188.07 289.75 182.4 C290.12 179.75 290.48 173.36 290.85 168.3 L292.25 147.2 L294.05 126.1 L295.1 109.1 L296.55 126.1 L298.35 147.2 L300.05 168.3 C300.55 173.71 301.05 178.91 301.55 182.4 C302.33 187.87 303.12 190.6 303.9 190.6 C304.77 190.6 305.63 186.28 306.5 184 C308.23 179.43 309.97 169.3 311.7 169.3 C313.13 169.3 314.57 177.36 316 181 C317.33 184.39 318.67 188.25 320 190.5 C321.5 193.03 323 194.6 324.5 194.6 C329.6 194.6 334.7 194.6 339.8 194.6 C341.77 194.6 343.73 193.4 345.7 191 C347.2 189.17 348.7 182.59 350.2 180 C351.07 178.51 351.93 177.77 352.8 176.6 C354.2 174.7 355.6 170.6 357 170.6 C358.13 170.6 359.27 176.17 360.4 179.1 C361.83 182.81 363.27 190.7 364.7 190.7 C366.23 190.7 367.77 184.3 369.3 184.3 C371.43 184.3 373.57 194.1 375.7 194.1 C378.67 194.1 381.63 179.5 384.6 179.5 C386.47 179.5 388.33 189.7 390.2 189.7 C392.3 189.7 394.4 180.5 396.5 180.5 C398.77 180.5 401.03 190.2 403.3 190.2 C405.9 190.2 408.5 167.6 411.1 167.6 C412.93 167.6 414.77 177.1 416.6 177.1 C418.4 177.1 420.2 168.6 422 168.6 C424.07 168.6 426.13 183.4 428.2 183.4 C429.9 183.4 431.6 172 433.3 172 C435.67 172 438.03 183.56 440.4 184.3 C442.1 184.83 443.8 185.1 445.5 185.1 C447.5 185.1 449.5 177.21 451.5 176.6 C453.47 176 455.43 175.7 457.4 175.7 C459.7 175.7 462 179.3 464.3 180 C466.27 180.6 468.23 180.3 470.2 180.9 C471.9 181.42 473.6 184.43 475.3 185.6 C476.73 186.58 478.17 186.64 479.6 187.7 C481.57 189.15 483.53 194.1 485.5 194.1 C487.67 194.1 489.83 174.4 492 174.4 C493.9 174.4 495.8 192.4 497.7 192.4 C499.97 192.4 502.23 186.8 504.5 186.8 C506.77 186.8 509.03 190.2 511.3 190.2 C513.57 190.2 515.83 180.3 518.1 180.3 C519.8 180.3 521.5 186.3 523.2 186.3 C524.33 186.3 525.47 185.6 526.6 185.6 C528.47 185.6 530.33 194.1 532.2 194.1 C534.3 194.1 536.4 181.2 538.5 181.2 C539.63 181.2 540.77 183.9 541.9 183.9 C543.9 183.9 545.9 176.3 547.9 176.3 C549.87 176.3 551.83 180.86 553.8 182.6 C555.8 184.37 557.8 186.8 559.8 186.8 C561.77 186.8 563.73 174 565.7 174 C567.7 174 569.7 194.1 571.7 194.1 C573.7 194.1 575.7 191.4 577.7 191.4 C579.4 191.4 581.1 194.1 582.8 194.1 C584.77 194.1 586.73 189.9 588.7 189.7 C590.7 189.5 592.7 189.6 594.7 189.4 C596.8 189.19 598.9 162.1 601 162.1 C603.13 162.1 605.27 194.29 607.4 194.4 C609.97 194.53 612.53 194.6 615.1 194.6 C618.23 194.6 621.37 185.1 624.5 185.1 C627.9 185.1 631.3 190.7 634.7 190.7 C636.97 190.7 639.23 184.3 641.5 184.3 C643.27 184.3 645.03 186 646.8 186 C648.5 186 650.2 185.1 651.9 185.1 C654.17 185.1 656.43 194.4 658.7 194.4 C660.13 194.4 661.57 194.4 663 194.4 C664.7 194.4 666.4 190.87 668.1 189.4 C670.37 187.44 672.63 184.6 674.9 184.6 C676.9 184.6 678.9 188.6 680.9 190.2 C683.17 192.01 685.43 194.6 687.7 194.6 C688.67 194.6 689.63 194.27 690.6 193.6 C692.47 192.31 694.33 178.85 696.2 174 C698.17 168.89 700.13 164.3 702.1 164.3 C703.8 164.3 705.5 174 707.2 174 C709.2 174 711.2 170.2 713.2 170.2 C714.33 170.2 715.47 170.77 716.6 171.9 C718.43 173.73 720.27 187.7 722.1 187.7 L726 140 L727.6 95 L730.1 57.5 L732.7 95 L734.9 140 C736.47 167.52 738.03 192.39 739.6 193.6 C740.47 194.27 741.33 194.6 742.2 194.6 C742.81 194.6 743.42 194.07 744.02 193.52 C744.5 193.09 744.98 192.28 745.46 191.86 C745.98 191.42 746.49 191 747 191 C747.51 191 748.02 191.42 748.54 191.86 C749.02 192.28 749.5 193.09 749.98 193.52 C750.58 194.07 751.19 194.6 751.8 194.6 C764.53 194.6 777.27 194.6 790 194.6 C798.13 194.6 806.27 194.6 814.4 194.6 C814.97 194.6 815.54 193.89 816.11 193.16 C816.56 192.58 817.01 191.51 817.46 190.95 C817.94 190.36 818.42 189.8 818.9 189.8 C819.38 189.8 819.86 190.36 820.34 190.95 C820.79 191.51 821.24 192.58 821.69 193.16 C822.26 193.89 822.83 194.6 823.4 194.6 C830.58 194.6 837.77 194.6 844.95 194.6" stroke="#4690ba" stroke-width="1.55" fill="none" stroke-linejoin="round"/>
<path d="M45.2 380.8 C46.13 381.37 47.07 381.58 48 382.5 C48.83 383.32 49.67 384.86 50.5 385.8 C51.27 386.67 52.03 388 52.8 388 C81.87 388 110.93 388 140 388 C141.67 388 143.33 388 145 388 C145.38 388 145.76 387.79 146.14 387.58 C146.44 387.41 146.74 387.1 147.04 386.94 C147.36 386.76 147.68 386.6 148 386.6 C148.32 386.6 148.64 386.76 148.96 386.94 C149.26 387.1 149.56 387.41 149.86 387.58 C150.24 387.79 150.62 388 151 388 C155.33 388 159.67 388 164 388 C164.38 388 164.76 387.79 165.14 387.58 C165.44 387.41 165.74 387.1 166.04 386.94 C166.36 386.76 166.68 386.6 167 386.6 C167.32 386.6 167.64 386.76 167.96 386.94 C168.26 387.1 168.56 387.41 168.86 387.58 C169.24 387.79 169.62 388 170 388 C171.67 388 173.33 388 175 388 C197.67 388 220.33 388 243 388 C243.89 388 244.77 387.73 245.66 387.46 C246.36 387.24 247.06 386.84 247.76 386.63 C248.51 386.41 249.25 386.2 250 386.2 C250.75 386.2 251.49 386.41 252.24 386.63 C252.94 386.84 253.64 387.24 254.34 387.46 C255.23 387.73 256.11 388 257 388 C265.67 388 274.33 387.93 283 387.8 C284.5 387.78 286 387.6 287.5 387.2 C288.35 386.97 289.2 380.63 290.05 367.5 L291.25 330 L291.85 312.5 L292.75 287.5 L294.05 262.5 L295 251.1 L295.85 262.5 L297.45 287.5 L298.35 312.5 L299.25 330 L300.65 358 C301.28 364.33 301.92 364.83 302.55 367.5 C303.67 372.24 304.8 374.44 305.92 377 C307.35 380.25 308.77 383.8 310.2 383.8 C311.63 383.8 313.07 383.4 314.5 383.4 C316.2 383.4 317.9 385.81 319.6 386.5 C321.07 387.09 322.53 387.5 324 387.5 C325.33 387.5 326.67 387.5 328 387.5 C330.5 387.5 333 385.4 335.5 385.4 C337.33 385.4 339.17 387.8 341 387.8 C344 387.8 347 387.73 350 387.6 C352.9 387.47 355.8 386.2 358.7 386.2 C359.8 386.2 360.9 386.7 362 386.7 C364 386.7 366 385.9 368 385.9 C370 385.9 372 385.9 374 385.9 C376 385.9 378 387 380 387 C382 387 384 385.9 386 385.9 C389.97 385.9 393.93 386.2 397.9 386.2 C400.43 386.2 402.97 382.5 405.5 382.5 C406.93 382.5 408.37 383.7 409.8 383.7 C412.53 383.7 415.27 378.9 418 378.9 C420.37 378.9 422.73 384.19 425.1 384.5 C427.67 384.83 430.23 384.67 432.8 385 C435.33 385.33 437.87 387 440.4 387 C443.8 387 447.2 385.9 450.6 385.9 C453.4 385.9 456.2 386.41 459 386.6 C461.33 386.76 463.67 387 466 387 C468.53 387 471.07 386.63 473.6 385.9 C476.17 385.16 478.73 382.3 481.3 382.3 C484.13 382.3 486.97 385.21 489.8 386.2 C492.07 387 494.33 388 496.6 388 C500.37 388 504.13 384 507.9 384 C510.43 384 512.97 385.24 515.5 385.9 C518.07 386.57 520.63 388 523.2 388 C526.6 388 530 386.2 533.4 386.2 C534.53 386.2 535.67 386.7 536.8 386.7 C538.5 386.7 540.2 383.8 541.9 383.8 C544.17 383.8 546.43 388 548.7 388 C551.53 388 554.37 387.63 557.2 386.9 C559.47 386.31 561.73 384.91 564 384 C566.57 382.97 569.13 381.1 571.7 381.1 C575.4 381.1 579.1 388 582.8 388 C584.77 388 586.73 382.3 588.7 382.3 C590.97 382.3 593.23 385.82 595.5 386 C597.2 386.13 598.9 386.07 600.6 386.2 C602.87 386.38 605.13 388 607.4 388 C609.7 388 612 387.63 614.3 386.9 C616.27 386.27 618.23 383.7 620.2 383.7 C622.77 383.7 625.33 388 627.9 388 C630.17 388 632.43 386.2 634.7 386.2 C637.23 386.2 639.77 388 642.3 388 C644.37 388 646.43 386.2 648.5 386.2 C650.77 386.2 653.03 388 655.3 388 C657.57 388 659.83 387.14 662.1 386.9 C664.67 386.63 667.23 386.5 669.8 386.5 C671.77 386.5 673.73 388 675.7 388 C681.4 388 687.1 388 692.8 388 C696.2 388 699.6 384 703 384 C705.83 384 708.67 387 711.5 387 C712.9 387 714.3 386.59 715.7 386.2 C718.27 385.48 720.83 383.31 723.4 382.8 C724.27 382.63 725.13 382.7 726 382.5 C727.97 382.05 729.93 378.4 731.9 378.4 C733.9 378.4 735.9 388 737.9 388 C773.58 388 809.27 388 844.95 388" stroke="#4690ba" stroke-width="1.55" fill="none" stroke-linejoin="round"/>
<path d="M45.2 581 C124.8 581 204.4 581 284 581 C285.33 581 286.67 580.87 288 580.6 C288.75 580.45 289.5 572.33 290.25 555.8 L291.35 525 L292.15 500 L293.05 475 L294.05 450 L295.4 444.4 L296.15 450 L297.1 475 L298.35 500 L299.65 525 L300.65 541.7 L302.05 555.8 C302.68 560.8 303.32 562.9 303.95 565.2 C304.77 568.18 305.59 568.59 306.42 569.9 C307.93 572.31 309.44 573.34 310.95 574.5 C312.63 575.8 314.32 576.26 316 577 C318.17 577.95 320.33 578.81 322.5 579.4 C325 580.08 327.5 580.4 330 580.6 C333.33 580.87 336.67 581 340 581 C361.67 581 383.33 581 405 581 C407.33 581 409.67 581 412 581 C412.89 581 413.77 580.9 414.66 580.79 C415.36 580.71 416.06 580.55 416.76 580.47 C417.51 580.38 418.25 580.3 419 580.3 C419.75 580.3 420.49 580.38 421.24 580.47 C421.94 580.55 422.64 580.71 423.34 580.79 C424.23 580.9 425.11 581 426 581 C517.33 581 608.67 581 700 581 C708 581 716 581 724 581 C724.76 581 725.52 580.91 726.28 580.82 C726.88 580.75 727.48 580.61 728.08 580.54 C728.72 580.47 729.36 580.4 730 580.4 C730.64 580.4 731.28 580.47 731.92 580.54 C732.52 580.61 733.12 580.75 733.72 580.82 C734.48 580.91 735.24 581 736 581 C772.32 581 808.63 581 844.95 581" stroke="#4690ba" stroke-width="1.55" fill="none" stroke-linejoin="round"/>
<path d="M45.2 851.5 C46.87 852.4 48.53 853.27 50.2 854.2 C50.47 854.35 50.73 854.65 51 854.65 C51.76 854.65 52.52 853.76 53.28 852.84 C53.88 852.11 54.48 850.75 55.08 850.05 C55.72 849.31 56.36 848.6 57 848.6 C57.64 848.6 58.28 849.31 58.92 850.05 C59.52 850.75 60.12 852.11 60.72 852.84 C61.48 853.76 62.24 854.65 63 854.65 C63.47 854.65 63.93 854.65 64.4 854.65 C64.97 854.65 65.54 854.3 66.11 853.94 C66.56 853.66 67.01 853.14 67.46 852.86 C67.94 852.57 68.42 852.3 68.9 852.3 C69.38 852.3 69.86 852.57 70.34 852.86 C70.79 853.14 71.24 853.66 71.69 853.94 C72.26 854.3 72.83 854.65 73.4 854.65 C78.93 854.65 84.47 854.65 90 854.65 C91.7 854.65 93.4 854.65 95.1 854.65 C95.99 854.65 96.87 854.01 97.76 853.35 C98.46 852.82 99.16 851.85 99.86 851.34 C100.61 850.81 101.35 850.3 102.1 850.3 C102.85 850.3 103.59 850.81 104.34 851.34 C105.04 851.85 105.74 852.82 106.44 853.35 C107.33 854.01 108.21 854.65 109.1 854.65 C111.07 854.65 113.03 854.65 115 854.65 C116.93 854.65 118.87 854.65 120.8 854.65 C121.56 854.65 122.32 854.3 123.08 853.94 C123.68 853.66 124.28 853.14 124.88 852.86 C125.52 852.57 126.16 852.3 126.8 852.3 C127.44 852.3 128.08 852.57 128.72 852.86 C129.32 853.14 129.92 853.66 130.52 853.94 C131.28 854.3 132.04 854.65 132.8 854.65 C145.2 854.65 157.6 854.65 170 854.65 C171.77 854.65 173.53 854.65 175.3 854.65 C176.38 854.65 177.45 853.51 178.53 852.32 C179.38 851.39 180.23 849.65 181.08 848.76 C181.99 847.81 182.89 846.9 183.8 846.9 C184.71 846.9 185.61 847.81 186.52 848.76 C187.37 849.65 188.22 851.39 189.07 852.32 C190.15 853.51 191.22 854.65 192.3 854.65 C194.37 854.65 196.43 854.65 198.5 854.65 C199.58 854.65 200.65 854.19 201.73 853.7 C202.58 853.33 203.43 852.62 204.28 852.26 C205.19 851.87 206.09 851.5 207 851.5 C207.91 851.5 208.81 851.87 209.72 852.26 C210.57 852.62 211.42 853.33 212.27 853.7 C213.35 854.19 214.42 854.65 215.5 854.65 C216.43 854.65 217.37 854.65 218.3 854.65 C219.57 854.65 220.83 853.76 222.1 852.84 C223.1 852.11 224.1 850.75 225.1 850.05 C226.17 849.31 227.23 848.6 228.3 848.6 C229.37 848.6 230.43 849.31 231.5 850.05 C232.5 850.75 233.5 852.11 234.5 852.84 C235.77 853.76 237.03 854.65 238.3 854.65 C239.02 854.65 239.75 853.31 240.47 852.17 C241.12 851.16 241.77 849.33 242.42 848.38 C243.11 847.36 243.81 846.4 244.5 846.4 C245.19 846.4 245.89 847.36 246.58 848.38 C247.23 849.33 247.88 851.18 248.53 852.17 C249.35 853.43 250.18 854.65 251 854.65 C253.3 854.65 255.6 854.65 257.9 854.65 C259.1 854.65 260.31 854.01 261.51 853.35 C262.46 852.82 263.41 851.85 264.36 851.34 C265.37 850.81 266.39 850.3 267.4 850.3 C268.41 850.3 269.43 850.81 270.44 851.34 C271.39 851.85 272.34 852.82 273.29 853.35 C274.49 854.01 275.7 854.65 276.9 854.65 C278.07 854.65 279.23 854.65 280.4 854.65 C281.13 854.65 281.87 854.19 282.6 853.7 C283.18 853.33 283.76 852.62 284.34 852.26 C284.96 851.87 285.58 851.5 286.2 851.5 C286.82 851.5 287.44 851.87 288.06 852.26 C288.64 852.62 289.22 853.33 289.8 853.7 C290.53 854.19 291.27 854.65 292 854.65 C295 854.65 298 854.6 301 854.5 C302.2 854.46 303.4 853.9 304.6 852.7 C305.14 852.16 305.69 850.68 306.23 849.8 C307.26 848.14 308.29 848.47 309.32 845.8 C309.73 844.74 310.14 843.13 310.55 840.7 L311.85 830.5 L312.85 815.3 L313.55 795 L314.05 779.5 L315.15 754.5 L316.25 729.5 L317.2 717.9 L318.1 729.5 L319.65 754.5 L320.95 779.5 L321.55 797 L322.45 815.3 L323.95 830.5 C324.55 835.36 325.15 838.28 325.75 840.7 C326.59 844.1 327.44 844.37 328.28 845.8 C329.31 847.54 330.34 848.55 331.37 849.8 C332.24 850.86 333.12 852.08 334 852.8 C335.5 854.03 337 854.65 338.5 854.65 C338.53 854.65 338.57 854.65 338.6 854.65 C339.17 854.65 339.74 854.33 340.31 854 C340.76 853.75 341.21 853.26 341.66 853.02 C342.14 852.75 342.62 852.5 343.1 852.5 C343.58 852.5 344.06 852.75 344.54 853.02 C344.99 853.26 345.44 853.75 345.89 854 C346.46 854.33 347.03 854.65 347.6 854.65 C348.07 854.65 348.53 854.65 349 854.65 C349.76 854.65 350.52 853.76 351.28 852.84 C351.88 852.11 352.48 850.75 353.08 850.05 C353.72 849.31 354.36 848.6 355 848.6 C355.64 848.6 356.28 849.31 356.92 850.05 C357.52 850.75 358.12 852.11 358.72 852.84 C359.48 853.76 360.24 854.65 361 854.65 C362 854.65 363 854 364 853.5 C365.07 852.97 366.13 851.63 367.2 851.5 C368.9 851.3 370.6 851.4 372.3 851.2 C374.3 850.96 376.3 848.1 378.3 848.1 C380.17 848.1 382.03 852.3 383.9 852.3 C385.83 852.3 387.77 848.1 389.7 848.1 C391.57 848.1 393.43 850.6 395.3 850.6 C396.73 850.6 398.17 850.3 399.6 850.3 C401.3 850.3 403 854.65 404.7 854.65 C406.47 854.65 408.23 854.65 410 854.65 C410.77 854.65 411.53 854.65 412.3 854.65 C413.06 854.65 413.82 854.3 414.58 853.94 C415.18 853.66 415.78 853.14 416.38 852.86 C417.02 852.57 417.66 852.3 418.3 852.3 C418.94 852.3 419.58 852.57 420.22 852.86 C420.82 853.14 421.42 853.66 422.02 853.94 C422.78 854.3 423.54 854.65 424.3 854.65 C426 854.65 427.7 853.8 429.4 853.8 C431.6 853.8 433.8 854.65 436 854.65 C436.89 854.65 437.77 854.3 438.66 853.94 C439.36 853.66 440.06 853.14 440.76 852.86 C441.51 852.57 442.25 852.3 443 852.3 C443.75 852.3 444.49 852.57 445.24 852.86 C445.94 853.14 446.64 853.66 447.34 853.94 C448.23 854.3 449.11 854.65 450 854.65 C463.27 854.65 476.53 854.43 489.8 854 C492.9 853.9 496 850.3 499.1 850.3 C500.33 850.3 501.57 850.9 502.8 850.9 C504.5 850.9 506.2 848.6 507.9 848.6 C510.17 848.6 512.43 854.65 514.7 854.65 C518.47 854.65 522.23 854.65 526 854.65 C526.5 854.65 527 854.65 527.5 854.65 C528.58 854.65 529.65 853.55 530.73 852.41 C531.58 851.52 532.43 849.85 533.28 848.99 C534.19 848.07 535.09 847.2 536 847.2 C536.91 847.2 537.81 848.07 538.72 848.99 C539.57 849.85 540.42 851.52 541.27 852.41 C542.35 853.55 543.42 854.65 544.5 854.65 C545.02 854.65 545.54 854.04 546.06 853.7 C546.76 853.26 547.46 852.62 548.16 852.26 C548.91 851.87 549.65 851.5 550.4 851.5 C551.15 851.5 551.89 851.87 552.64 852.26 C553.34 852.62 554.04 853.33 554.74 853.7 C555.63 854.19 556.51 854.65 557.4 854.65 C558.27 854.65 559.13 854.65 560 854.65 C561.5 854.65 563 854.65 564.5 854.65 C565.23 854.65 565.97 853.98 566.7 853.28 C567.28 852.74 567.86 851.72 568.44 851.19 C569.06 850.63 569.68 850.1 570.3 850.1 C570.92 850.1 571.54 850.63 572.16 851.19 C572.74 851.72 573.32 852.74 573.9 853.28 C574.63 853.98 575.37 854.65 576.1 854.65 C576.57 854.65 577.03 854.65 577.5 854.65 C578.17 854.65 578.84 853.43 579.51 852.17 C580.04 851.18 580.57 849.33 581.1 848.38 C581.67 847.36 582.23 846.4 582.8 846.4 C583.37 846.4 583.93 847.36 584.5 848.38 C585.03 849.33 585.56 851.18 586.09 852.17 C586.76 853.43 587.43 854.65 588.1 854.65 C625.4 854.65 662.7 854.65 700 854.65 C707.63 854.65 715.27 854.65 722.9 854.65 C723.72 854.65 724.55 853.11 725.37 851.51 C726.02 850.26 726.67 847.91 727.32 846.71 C728.01 845.42 728.71 844.2 729.4 844.2 C730.09 844.2 730.79 845.42 731.48 846.71 C732.13 847.91 732.78 850.26 733.43 851.51 C734.25 853.11 735.08 854.65 735.9 854.65 C772.25 854.65 808.6 854.65 844.95 854.65" stroke="#4690ba" stroke-width="1.55" fill="none" stroke-linejoin="round"/>
<path d="M45.2 1047.7 C66.8 1047.7 88.4 1047.7 110 1047.7 C110.51 1047.7 111.01 1047.58 111.52 1047.46 C111.92 1047.36 112.32 1047.18 112.72 1047.09 C113.15 1046.99 113.57 1046.9 114 1046.9 C114.43 1046.9 114.85 1046.99 115.28 1047.09 C115.68 1047.18 116.08 1047.36 116.48 1047.46 C116.99 1047.58 117.49 1047.7 118 1047.7 C148 1047.7 178 1047.7 208 1047.7 C208.51 1047.7 209.01 1047.6 209.52 1047.49 C209.92 1047.41 210.32 1047.25 210.72 1047.17 C211.15 1047.08 211.57 1047 212 1047 C212.43 1047 212.85 1047.08 213.28 1047.17 C213.68 1047.25 214.08 1047.41 214.48 1047.49 C214.99 1047.6 215.49 1047.7 216 1047.7 C245.33 1047.7 274.67 1047.7 304 1047.7 C305 1047.7 306 1047.67 307 1047.6 C307.67 1047.56 308.33 1046.93 309 1045.6 C309.41 1044.77 309.83 1039.21 310.24 1035.8 L310.85 1030.7 L311.55 1020.5 L312.35 1005.3 L313.05 985 L313.75 972.5 L314.75 947.5 L315.95 922.5 L316.6 911.1 L317.45 922.5 L319.05 947.5 L319.95 972.5 L320.65 985 L321.45 1005.3 L322.15 1020.5 L323.25 1030.7 C323.59 1033.08 323.92 1034.63 324.26 1035.8 C325.21 1039.13 326.16 1039.29 327.12 1040.8 C328.08 1042.32 329.04 1044.63 330 1044.9 C331.67 1045.37 333.33 1045.47 335 1045.6 C336.67 1045.73 338.33 1045.67 340 1045.8 C341.33 1045.91 342.67 1047.57 344 1047.6 C346.67 1047.67 349.33 1047.7 352 1047.7 C353 1047.7 354 1047.7 355 1047.7 C356.65 1047.7 358.29 1047.49 359.94 1047.28 C361.24 1047.11 362.54 1046.8 363.84 1046.64 C365.23 1046.46 366.61 1046.3 368 1046.3 C369.39 1046.3 370.77 1046.46 372.16 1046.64 C373.46 1046.8 374.76 1047.11 376.06 1047.28 C377.71 1047.49 379.35 1047.7 381 1047.7 C392.67 1047.7 404.33 1047.7 416 1047.7 C416.63 1047.7 417.27 1047.6 417.9 1047.49 C418.4 1047.41 418.9 1047.25 419.4 1047.17 C419.93 1047.08 420.47 1047 421 1047 C421.53 1047 422.07 1047.08 422.6 1047.17 C423.1 1047.25 423.6 1047.41 424.1 1047.49 C424.73 1047.6 425.37 1047.7 426 1047.7 C470.67 1047.7 515.33 1047.7 560 1047.7 C562 1047.7 564 1047.7 566 1047.7 C566.76 1047.7 567.52 1047.54 568.28 1047.37 C568.88 1047.24 569.48 1046.99 570.08 1046.86 C570.72 1046.73 571.36 1046.6 572 1046.6 C572.64 1046.6 573.28 1046.73 573.92 1046.86 C574.52 1046.99 575.12 1047.24 575.72 1047.37 C576.48 1047.54 577.24 1047.7 578 1047.7 C666.98 1047.7 755.97 1047.7 844.95 1047.7" stroke="#4690ba" stroke-width="1.55" fill="none" stroke-linejoin="round"/>
<path d="M45.2 1240.9 C131.47 1240.9 217.73 1240.9 304 1240.9 C305 1240.9 306 1241 307 1241 C307.77 1241 308.53 1240.67 309.3 1240 C309.5 1239.83 309.7 1235.47 309.9 1233.8 L310.85 1228.8 L311.35 1223.7 L312.05 1213.5 L312.85 1198.3 L313.55 1178 L314.05 1165.5 L315.05 1140.5 L316.15 1115.5 L316.9 1104.2 L317.75 1115.5 L319.25 1140.5 L320.25 1165.5 L321.15 1178 L321.65 1198.3 L322.45 1213.5 L323.75 1223.7 C324.08 1225.8 324.42 1227.81 324.75 1228.8 C325.87 1232.13 326.99 1232.4 328.1 1233.8 C328.9 1234.8 329.7 1235.81 330.5 1236.4 C332.67 1238 334.83 1238.23 337 1238.8 C339.67 1239.51 342.33 1239.6 345 1239.9 C348.33 1240.27 351.67 1240.57 355 1240.7 C358.33 1240.83 361.67 1240.9 365 1240.9 C524.98 1240.9 684.97 1240.9 844.95 1240.9" stroke="#4690ba" stroke-width="1.55" fill="none" stroke-linejoin="round"/>
<path d="M287.4 190.9 C288.18 188.07 288.97 188.07 289.75 182.4 C290.12 179.75 290.48 173.36 290.85 168.3 L292.25 147.2 L294.05 126.1 L295.1 109.1 L296.55 126.1 L298.35 147.2 L300.05 168.3 C300.55 173.71 301.05 178.91 301.55 182.4 C302.33 187.87 303.12 187.87 303.9 190.6 Z" fill="#1489c9" stroke="#1489c9" stroke-width="0.8"/>
<path d="M287.4 190.9 L303.9 190.6" stroke="#163a52" stroke-width="1.3"/>
<path d="M287.5 387.2 L290.05 367.5 L291.25 330 L291.85 312.5 L292.75 287.5 L294.05 262.5 L295 251.1 L295.85 262.5 L297.45 287.5 L298.35 312.5 L299.25 330 L300.65 358 C301.28 364.33 301.92 364.83 302.55 367.5 C303.67 372.24 304.8 374.44 305.92 377 C307.35 380.25 308.77 381.53 310.2 383.8 Z" fill="#1489c9" stroke="#1489c9" stroke-width="0.8"/>
<path d="M287.5 387.2 L310.2 383.8" stroke="#163a52" stroke-width="1.3"/>
<path d="M288 580.6 L290.25 555.8 L291.35 525 L292.15 500 L293.05 475 L294.05 450 L295.4 444.4 L296.15 450 L297.1 475 L298.35 500 L299.65 525 L300.65 541.7 L302.05 555.8 C302.68 560.8 303.32 562.9 303.95 565.2 C304.77 568.18 305.59 568.59 306.42 569.9 C307.93 572.31 309.44 573.34 310.95 574.5 C312.63 575.8 314.32 576.17 316 577 Z" fill="#1489c9" stroke="#1489c9" stroke-width="0.8"/>
<path d="M288 580.6 L316 577" stroke="#163a52" stroke-width="1.3"/>
<path d="M304.6 852.7 C305.14 851.73 305.69 850.68 306.23 849.8 C307.26 848.14 308.29 848.47 309.32 845.8 C309.73 844.74 310.14 843.13 310.55 840.7 L311.85 830.5 L312.85 815.3 L313.55 795 L314.05 779.5 L315.15 754.5 L316.25 729.5 L317.2 717.9 L318.1 729.5 L319.65 754.5 L320.95 779.5 L321.55 797 L322.45 815.3 L323.95 830.5 C324.55 835.36 325.15 838.28 325.75 840.7 C326.59 844.1 327.44 844.37 328.28 845.8 C329.31 847.54 330.34 848.55 331.37 849.8 C332.24 850.86 333.12 851.8 334 852.8 Z" fill="#1489c9" stroke="#1489c9" stroke-width="0.8"/>
<path d="M304.6 852.7 L334 852.8" stroke="#163a52" stroke-width="1.3"/>
<path d="M309 1045.6 L310.24 1035.8 L310.85 1030.7 L311.55 1020.5 L312.35 1005.3 L313.05 985 L313.75 972.5 L314.75 947.5 L315.95 922.5 L316.6 911.1 L317.45 922.5 L319.05 947.5 L319.95 972.5 L320.65 985 L321.45 1005.3 L322.15 1020.5 L323.25 1030.7 C323.59 1033.08 323.92 1034.63 324.26 1035.8 C325.21 1039.13 326.16 1039.29 327.12 1040.8 C328.08 1042.32 329.04 1043.53 330 1044.9 Z" fill="#1489c9" stroke="#1489c9" stroke-width="0.8"/>
<path d="M309 1045.6 L330 1044.9" stroke="#163a52" stroke-width="1.3"/>
<path d="M309.3 1240 L309.9 1233.8 L310.85 1228.8 L311.35 1223.7 L312.05 1213.5 L312.85 1198.3 L313.55 1178 L314.05 1165.5 L315.05 1140.5 L316.15 1115.5 L316.9 1104.2 L317.75 1115.5 L319.25 1140.5 L320.25 1165.5 L321.15 1178 L321.65 1198.3 L322.45 1213.5 L323.75 1223.7 C324.08 1225.8 324.42 1227.81 324.75 1228.8 C325.87 1232.13 326.99 1232.4 328.1 1233.8 C328.9 1234.8 329.7 1235.53 330.5 1236.4 Z" fill="#1489c9" stroke="#1489c9" stroke-width="0.8"/>
<path d="M309.3 1240 L330.5 1236.4" stroke="#163a52" stroke-width="1.3"/>
<text x="20.4" y="30.6" font-size="20" text-anchor="start" font-weight="bold" fill="#111">A</text>
<text transform="translate(21.8 684.8) scale(0.9 1)" font-size="20" text-anchor="start" font-weight="bold" fill="#111">B</text>
<text transform="translate(81.9 73.5) scale(0.92 1)" x="0" y="0" font-size="17.8" fill="#2b2b2b" stroke="#333" stroke-width="0.1" textLength="140.54" lengthAdjust="spacing">LQC <tspan dx="-2.2">–</tspan> 10 ng/mL</text>
<text transform="translate(81.9 96.5) scale(0.92 1)" x="0" y="0" font-size="17.8" fill="#2b2b2b" stroke="#333" stroke-width="0.1" textLength="147.83" lengthAdjust="spacing">Area counts – 76</text>
<text transform="translate(81.9 270.4) scale(0.92 1)" x="0" y="0" font-size="17.8" fill="#2b2b2b" stroke="#333" stroke-width="0.1" textLength="147.83" lengthAdjust="spacing">MQC <tspan dx="-2.2">–</tspan> 75 ng/mL</text>
<text transform="translate(81.9 293.4) scale(0.92 1)" x="0" y="0" font-size="17.8" fill="#2b2b2b" stroke="#333" stroke-width="0.1" textLength="159.24" lengthAdjust="spacing">Area counts – 886</text>
<text transform="translate(76.2 462.5) scale(0.92 1)" x="0" y="0" font-size="17.8" fill="#2b2b2b" stroke="#333" stroke-width="0.1" textLength="155.65" lengthAdjust="spacing">HQC <tspan dx="-2.2">–</tspan> 750 ng/mL</text>
<text transform="translate(75.6 485.9) scale(0.92 1)" x="0" y="0" font-size="17.8" fill="#2b2b2b" stroke="#333" stroke-width="0.1" textLength="168.15" lengthAdjust="spacing">Area counts – 7261</text>
<text transform="translate(77.5 729.4) scale(0.92 1)" x="0" y="0" font-size="17.8" fill="#2b2b2b" stroke="#333" stroke-width="0.1" textLength="143.15" lengthAdjust="spacing">LQC – 10 ng/mL</text>
<text transform="translate(77.5 752.8) scale(0.92 1)" x="0" y="0" font-size="17.8" fill="#2b2b2b" stroke="#333" stroke-width="0.1" textLength="158.8" lengthAdjust="spacing">Area counts – 276</text>
<text transform="translate(78.1 921.4) scale(0.92 1)" x="0" y="0" font-size="17.8" fill="#2b2b2b" stroke="#333" stroke-width="0.1" textLength="147.72" lengthAdjust="spacing">MQC – 75 ng/mL</text>
<text transform="translate(77.9 945.3) scale(0.92 1)" x="0" y="0" font-size="17.8" fill="#2b2b2b" stroke="#333" stroke-width="0.1" textLength="168.8" lengthAdjust="spacing">Area counts – 2068</text>
<text transform="translate(78.5 1115.4) scale(0.92 1)" x="0" y="0" font-size="17.8" fill="#2b2b2b" stroke="#333" stroke-width="0.1" textLength="156.63" lengthAdjust="spacing">HQC – 750 ng/mL</text>
<text transform="translate(78.5 1139) scale(0.92 1)" x="0" y="0" font-size="17.8" fill="#2b2b2b" stroke="#333" stroke-width="0.1" textLength="179.57" lengthAdjust="spacing">Area counts – 22845</text>
</svg>
</body></html>
